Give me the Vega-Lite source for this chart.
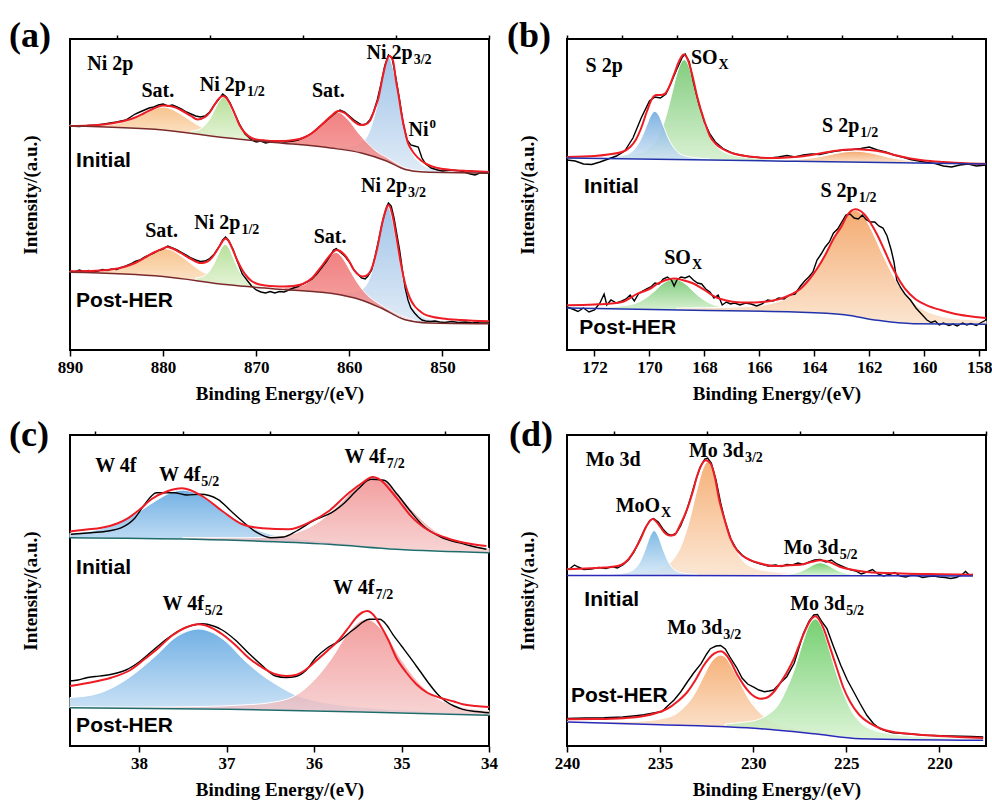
{
"$schema": "https://vega.github.io/schema/vega-lite/v6.json",
"padding": {"left": 8, "top": 17, "right": 0, "bottom": 0},
"columns": 2,
"spacing": {"row": 85, "column": 78},
"bounds": "flush",
"config": {
 "font": "Liberation Serif",
 "view": {"stroke": "black", "strokeWidth": 2},
 "axisX": {"domain": false, "grid": false, "tickColor": "black", "tickWidth": 1.5, "tickSize": 6, "labelFont": "Liberation Serif", "labelFontSize": 17, "labelFontWeight": "bold", "labelColor": "black", "labelPadding": 3, "labelFlush": false, "labelOverlap": false, "titleFont": "Liberation Serif", "titleFontSize": 19, "titleFontWeight": "bold", "titleColor": "black", "titlePadding": 9},
 "axisY": {"domain": false, "grid": false, "ticks": false, "labels": false, "minExtent": 0, "titleFont": "Liberation Serif", "titleFontSize": 19, "titleFontWeight": "bold", "titleColor": "black", "titlePadding": 30}
},
"datasets": {
"a": [
{"k":"raw","g":"i","x":890,"y":224},{"k":"raw","g":"i","x":889,"y":223.5},{"k":"raw","g":"i","x":888,"y":224.5},{"k":"raw","g":"i","x":887,"y":225},{"k":"raw","g":"i","x":886,"y":226.5},{"k":"raw","g":"i","x":885,"y":228},{"k":"raw","g":"i","x":884,"y":230},{"k":"raw","g":"i","x":883.5,"y":233},{"k":"raw","g":"i","x":883,"y":236},{"k":"raw","g":"i","x":882.5,"y":238},{"k":"raw","g":"i","x":882,"y":240},{"k":"raw","g":"i","x":881.5,"y":242},{"k":"raw","g":"i","x":881,"y":243},{"k":"raw","g":"i","x":880.5,"y":245},{"k":"raw","g":"i","x":880,"y":246},{"k":"raw","g":"i","x":879.5,"y":244},{"k":"raw","g":"i","x":879,"y":245},{"k":"raw","g":"i","x":878.5,"y":243},{"k":"raw","g":"i","x":878,"y":241},{"k":"raw","g":"i","x":877.5,"y":238},{"k":"raw","g":"i","x":877,"y":236},{"k":"raw","g":"i","x":876.5,"y":234},{"k":"raw","g":"i","x":876,"y":233},{"k":"raw","g":"i","x":875.5,"y":234},{"k":"raw","g":"i","x":875,"y":238},{"k":"raw","g":"i","x":874.5,"y":245},{"k":"raw","g":"i","x":874,"y":251},{"k":"raw","g":"i","x":873.6,"y":256},{"k":"raw","g":"i","x":873.2,"y":253},{"k":"raw","g":"i","x":872.8,"y":247},{"k":"raw","g":"i","x":872.3,"y":236},{"k":"raw","g":"i","x":871.8,"y":226},{"k":"raw","g":"i","x":871.2,"y":216},{"k":"raw","g":"i","x":870.5,"y":210},{"k":"raw","g":"i","x":870,"y":208},{"k":"raw","g":"i","x":869.5,"y":209},{"k":"raw","g":"i","x":869,"y":207},{"k":"raw","g":"i","x":868.5,"y":208},{"k":"raw","g":"i","x":868,"y":209},{"k":"raw","g":"i","x":867,"y":208},{"k":"raw","g":"i","x":866,"y":209},{"k":"raw","g":"i","x":865.5,"y":210},{"k":"raw","g":"i","x":865,"y":212},{"k":"raw","g":"i","x":864.5,"y":214},{"k":"raw","g":"i","x":864,"y":217},{"k":"raw","g":"i","x":863.5,"y":221},{"k":"raw","g":"i","x":863,"y":225},{"k":"raw","g":"i","x":862.5,"y":229},{"k":"raw","g":"i","x":862,"y":233},{"k":"raw","g":"i","x":861.5,"y":237},{"k":"raw","g":"i","x":861,"y":240},{"k":"raw","g":"i","x":860.5,"y":238},{"k":"raw","g":"i","x":860,"y":234},{"k":"raw","g":"i","x":859.5,"y":230},{"k":"raw","g":"i","x":859,"y":227},{"k":"raw","g":"i","x":858.6,"y":225},{"k":"raw","g":"i","x":858.2,"y":226},{"k":"raw","g":"i","x":857.8,"y":230},{"k":"raw","g":"i","x":857.4,"y":238},{"k":"raw","g":"i","x":857,"y":250},{"k":"raw","g":"i","x":856.6,"y":266},{"k":"raw","g":"i","x":856.2,"y":284},{"k":"raw","g":"i","x":855.8,"y":295},{"k":"raw","g":"i","x":855.4,"y":292},{"k":"raw","g":"i","x":855,"y":272},{"k":"raw","g":"i","x":854.6,"y":250},{"k":"raw","g":"i","x":854.2,"y":226},{"k":"raw","g":"i","x":853.8,"y":210},{"k":"raw","g":"i","x":853.4,"y":205},{"k":"raw","g":"i","x":853,"y":204},{"k":"raw","g":"i","x":852.6,"y":203},{"k":"raw","g":"i","x":852.2,"y":192},{"k":"raw","g":"i","x":851.8,"y":186},{"k":"raw","g":"i","x":851.2,"y":182},{"k":"raw","g":"i","x":850.5,"y":180},{"k":"raw","g":"i","x":850,"y":179},{"k":"raw","g":"i","x":849,"y":180},{"k":"raw","g":"i","x":848,"y":179},{"k":"raw","g":"i","x":847,"y":176},{"k":"raw","g":"i","x":846.5,"y":175},{"k":"raw","g":"i","x":846,"y":177},{"k":"raw","g":"i","x":845,"y":177},
{"k":"raw","g":"p","x":890,"y":79},{"k":"raw","g":"p","x":889.5,"y":78},{"k":"raw","g":"p","x":889,"y":80},{"k":"raw","g":"p","x":888.5,"y":78.5},{"k":"raw","g":"p","x":888,"y":79.5},{"k":"raw","g":"p","x":887.5,"y":78},{"k":"raw","g":"p","x":887,"y":79},{"k":"raw","g":"p","x":886.5,"y":80.5},{"k":"raw","g":"p","x":886,"y":79.5},{"k":"raw","g":"p","x":885.5,"y":81},{"k":"raw","g":"p","x":885,"y":80.5},{"k":"raw","g":"p","x":884.5,"y":82.5},{"k":"raw","g":"p","x":884,"y":84},{"k":"raw","g":"p","x":883.5,"y":86},{"k":"raw","g":"p","x":883,"y":88.5},{"k":"raw","g":"p","x":882.5,"y":90},{"k":"raw","g":"p","x":882,"y":93},{"k":"raw","g":"p","x":881.5,"y":95},{"k":"raw","g":"p","x":881,"y":97},{"k":"raw","g":"p","x":880.5,"y":99.5},{"k":"raw","g":"p","x":880,"y":101},{"k":"raw","g":"p","x":879.5,"y":104},{"k":"raw","g":"p","x":879,"y":102},{"k":"raw","g":"p","x":878.5,"y":100},{"k":"raw","g":"p","x":878,"y":97.5},{"k":"raw","g":"p","x":877.5,"y":95},{"k":"raw","g":"p","x":877,"y":92},{"k":"raw","g":"p","x":876.5,"y":90},{"k":"raw","g":"p","x":876,"y":88.5},{"k":"raw","g":"p","x":875.5,"y":89},{"k":"raw","g":"p","x":875,"y":91.5},{"k":"raw","g":"p","x":874.5,"y":96},{"k":"raw","g":"p","x":874,"y":103},{"k":"raw","g":"p","x":873.6,"y":110},{"k":"raw","g":"p","x":873.3,"y":113},{"k":"raw","g":"p","x":873,"y":110},{"k":"raw","g":"p","x":872.5,"y":101},{"k":"raw","g":"p","x":872,"y":88},{"k":"raw","g":"p","x":871.5,"y":76},{"k":"raw","g":"p","x":871,"y":70},{"k":"raw","g":"p","x":870.5,"y":64},{"k":"raw","g":"p","x":870,"y":60},{"k":"raw","g":"p","x":869.5,"y":58},{"k":"raw","g":"p","x":869,"y":57},{"k":"raw","g":"p","x":868.5,"y":58.5},{"k":"raw","g":"p","x":868,"y":57},{"k":"raw","g":"p","x":867.5,"y":58.5},{"k":"raw","g":"p","x":867,"y":58},{"k":"raw","g":"p","x":866.5,"y":60},{"k":"raw","g":"p","x":866,"y":62},{"k":"raw","g":"p","x":865.5,"y":63.5},{"k":"raw","g":"p","x":865,"y":66},{"k":"raw","g":"p","x":864.5,"y":68},{"k":"raw","g":"p","x":864,"y":71},{"k":"raw","g":"p","x":863.5,"y":76},{"k":"raw","g":"p","x":863,"y":82},{"k":"raw","g":"p","x":862.5,"y":88},{"k":"raw","g":"p","x":862,"y":95},{"k":"raw","g":"p","x":861.7,"y":100},{"k":"raw","g":"p","x":861.4,"y":101.5},{"k":"raw","g":"p","x":861,"y":98},{"k":"raw","g":"p","x":860.5,"y":94},{"k":"raw","g":"p","x":860,"y":88},{"k":"raw","g":"p","x":859.5,"y":80},{"k":"raw","g":"p","x":859,"y":75},{"k":"raw","g":"p","x":858.7,"y":72},{"k":"raw","g":"p","x":858.3,"y":71},{"k":"raw","g":"p","x":858,"y":74},{"k":"raw","g":"p","x":857.6,"y":80},{"k":"raw","g":"p","x":857.2,"y":95},{"k":"raw","g":"p","x":856.8,"y":112},{"k":"raw","g":"p","x":856.4,"y":130},{"k":"raw","g":"p","x":856,"y":143},{"k":"raw","g":"p","x":855.8,"y":147},{"k":"raw","g":"p","x":855.5,"y":144},{"k":"raw","g":"p","x":855.2,"y":132},{"k":"raw","g":"p","x":854.9,"y":116},{"k":"raw","g":"p","x":854.6,"y":100},{"k":"raw","g":"p","x":854.3,"y":80},{"k":"raw","g":"p","x":854,"y":62},{"k":"raw","g":"p","x":853.7,"y":50},{"k":"raw","g":"p","x":853.4,"y":42},{"k":"raw","g":"p","x":853,"y":37},{"k":"raw","g":"p","x":852.6,"y":33},{"k":"raw","g":"p","x":852.2,"y":30},{"k":"raw","g":"p","x":851.8,"y":29},{"k":"raw","g":"p","x":851.3,"y":28.5},{"k":"raw","g":"p","x":850.8,"y":29},{"k":"raw","g":"p","x":850.3,"y":28},{"k":"raw","g":"p","x":849.8,"y":27.5},{"k":"raw","g":"p","x":849,"y":28.5},{"k":"raw","g":"p","x":848.3,"y":27.5},{"k":"raw","g":"p","x":847.5,"y":28},{"k":"raw","g":"p","x":846.8,"y":27},{"k":"raw","g":"p","x":846,"y":28},{"k":"raw","g":"p","x":845,"y":28},
{"k":"fit","g":"i","x":890,"y":224},{"k":"fit","g":"i","x":888,"y":224.5},{"k":"fit","g":"i","x":886,"y":226},{"k":"fit","g":"i","x":884,"y":229.5},{"k":"fit","g":"i","x":883,"y":232.5},{"k":"fit","g":"i","x":882,"y":237},{"k":"fit","g":"i","x":881,"y":241.5},{"k":"fit","g":"i","x":880,"y":244.5},{"k":"fit","g":"i","x":879,"y":243.5},{"k":"fit","g":"i","x":878,"y":239.5},{"k":"fit","g":"i","x":877,"y":234},{"k":"fit","g":"i","x":876.3,"y":230.5},{"k":"fit","g":"i","x":875.5,"y":233},{"k":"fit","g":"i","x":875,"y":237.5},{"k":"fit","g":"i","x":874.5,"y":245},{"k":"fit","g":"i","x":874,"y":251.5},{"k":"fit","g":"i","x":873.6,"y":254},{"k":"fit","g":"i","x":873.2,"y":252},{"k":"fit","g":"i","x":872.8,"y":246},{"k":"fit","g":"i","x":872.3,"y":236},{"k":"fit","g":"i","x":871.8,"y":225},{"k":"fit","g":"i","x":871.2,"y":217},{"k":"fit","g":"i","x":870.5,"y":212},{"k":"fit","g":"i","x":870,"y":210.5},{"k":"fit","g":"i","x":869,"y":209.5},{"k":"fit","g":"i","x":868,"y":209},{"k":"fit","g":"i","x":867,"y":209},{"k":"fit","g":"i","x":866,"y":210},{"k":"fit","g":"i","x":865,"y":212},{"k":"fit","g":"i","x":864,"y":217},{"k":"fit","g":"i","x":863,"y":225},{"k":"fit","g":"i","x":862,"y":233.5},{"k":"fit","g":"i","x":861.2,"y":239},{"k":"fit","g":"i","x":860.5,"y":237},{"k":"fit","g":"i","x":860,"y":233},{"k":"fit","g":"i","x":859.5,"y":228.5},{"k":"fit","g":"i","x":858.8,"y":225},{"k":"fit","g":"i","x":858.3,"y":225.5},{"k":"fit","g":"i","x":857.8,"y":229},{"k":"fit","g":"i","x":857.2,"y":243},{"k":"fit","g":"i","x":856.9,"y":251},{"k":"fit","g":"i","x":856.4,"y":274},{"k":"fit","g":"i","x":856,"y":289},{"k":"fit","g":"i","x":855.7,"y":294},{"k":"fit","g":"i","x":855.3,"y":289},{"k":"fit","g":"i","x":855,"y":270},{"k":"fit","g":"i","x":854.7,"y":254},{"k":"fit","g":"i","x":854.4,"y":236},{"k":"fit","g":"i","x":854,"y":218},{"k":"fit","g":"i","x":853.7,"y":207},{"k":"fit","g":"i","x":853.3,"y":200},{"k":"fit","g":"i","x":853,"y":196},{"k":"fit","g":"i","x":852.3,"y":189.5},{"k":"fit","g":"i","x":851.5,"y":185},{"k":"fit","g":"i","x":850.5,"y":182},{"k":"fit","g":"i","x":849,"y":180},{"k":"fit","g":"i","x":847,"y":179},{"k":"fit","g":"i","x":845,"y":178},
{"k":"fit","g":"p","x":890,"y":78.7},{"k":"fit","g":"p","x":888,"y":79},{"k":"fit","g":"p","x":886,"y":80},{"k":"fit","g":"p","x":884,"y":83.5},{"k":"fit","g":"p","x":883,"y":87},{"k":"fit","g":"p","x":882,"y":92},{"k":"fit","g":"p","x":881,"y":97.5},{"k":"fit","g":"p","x":880,"y":101.5},{"k":"fit","g":"p","x":879.6,"y":103},{"k":"fit","g":"p","x":879,"y":101.5},{"k":"fit","g":"p","x":878,"y":96.5},{"k":"fit","g":"p","x":877,"y":91},{"k":"fit","g":"p","x":876,"y":87},{"k":"fit","g":"p","x":875.5,"y":87.5},{"k":"fit","g":"p","x":875,"y":90},{"k":"fit","g":"p","x":874.5,"y":95.5},{"k":"fit","g":"p","x":874,"y":103},{"k":"fit","g":"p","x":873.6,"y":109},{"k":"fit","g":"p","x":873.3,"y":111.5},{"k":"fit","g":"p","x":873,"y":109.5},{"k":"fit","g":"p","x":872.5,"y":100},{"k":"fit","g":"p","x":872,"y":89},{"k":"fit","g":"p","x":871.5,"y":80},{"k":"fit","g":"p","x":871,"y":73.5},{"k":"fit","g":"p","x":870.5,"y":69},{"k":"fit","g":"p","x":870,"y":66.5},{"k":"fit","g":"p","x":869,"y":64.5},{"k":"fit","g":"p","x":868,"y":63.7},{"k":"fit","g":"p","x":867,"y":63.5},{"k":"fit","g":"p","x":866,"y":64},{"k":"fit","g":"p","x":865,"y":66},{"k":"fit","g":"p","x":864,"y":72},{"k":"fit","g":"p","x":863,"y":83.5},{"k":"fit","g":"p","x":862,"y":95.5},{"k":"fit","g":"p","x":861.4,"y":100},{"k":"fit","g":"p","x":861,"y":99},{"k":"fit","g":"p","x":860.5,"y":95},{"k":"fit","g":"p","x":860,"y":88.5},{"k":"fit","g":"p","x":859.5,"y":80},{"k":"fit","g":"p","x":859,"y":75},{"k":"fit","g":"p","x":858.5,"y":73.5},{"k":"fit","g":"p","x":858,"y":75.5},{"k":"fit","g":"p","x":857.5,"y":84},{"k":"fit","g":"p","x":857,"y":102},{"k":"fit","g":"p","x":856.5,"y":125.5},{"k":"fit","g":"p","x":856,"y":142},{"k":"fit","g":"p","x":855.8,"y":145},{"k":"fit","g":"p","x":855.4,"y":136},{"k":"fit","g":"p","x":855,"y":116},{"k":"fit","g":"p","x":854.5,"y":88},{"k":"fit","g":"p","x":854,"y":66},{"k":"fit","g":"p","x":853.5,"y":52},{"k":"fit","g":"p","x":853,"y":44},{"k":"fit","g":"p","x":852.5,"y":39.5},{"k":"fit","g":"p","x":852,"y":36},{"k":"fit","g":"p","x":851,"y":33},{"k":"fit","g":"p","x":850,"y":31.5},{"k":"fit","g":"p","x":848,"y":30},{"k":"fit","g":"p","x":845,"y":28.7},
{"k":"base","g":"i","x":890,"y":224},{"k":"base","g":"i","x":880,"y":220},{"k":"base","g":"i","x":873,"y":212},{"k":"base","g":"i","x":868,"y":207.5},{"k":"base","g":"i","x":862,"y":202},{"k":"base","g":"i","x":858.7,"y":197},{"k":"base","g":"i","x":856,"y":189},{"k":"base","g":"i","x":854,"y":180.5},{"k":"base","g":"i","x":852,"y":178},{"k":"base","g":"i","x":845,"y":177},
{"k":"base","g":"p","x":890,"y":77.7},{"k":"base","g":"p","x":880,"y":73.5},{"k":"base","g":"p","x":873,"y":65.2},{"k":"base","g":"p","x":868,"y":61.1},{"k":"base","g":"p","x":862,"y":56.7},{"k":"base","g":"p","x":858.8,"y":50.3},{"k":"base","g":"p","x":856.6,"y":42},{"k":"base","g":"p","x":854,"y":30.3},{"k":"base","g":"p","x":851.5,"y":27},{"k":"base","g":"p","x":845,"y":26.3},
{"k":"or","g":"i","x":890,"y":224.9,"y2":224},{"k":"or","g":"i","x":888,"y":224.6,"y2":223.2},{"k":"or","g":"i","x":886,"y":225.2,"y2":222.4},{"k":"or","g":"i","x":884,"y":228.5,"y2":221.6},{"k":"or","g":"i","x":883,"y":231.8,"y2":221.2},{"k":"or","g":"i","x":882,"y":236.2,"y2":220.8},{"k":"or","g":"i","x":881,"y":240.6,"y2":220.4},{"k":"or","g":"i","x":880,"y":243,"y2":220},{"k":"or","g":"i","x":879,"y":240.5,"y2":218.9},{"k":"or","g":"i","x":878,"y":235.2,"y2":217.7},{"k":"or","g":"i","x":877,"y":229.2,"y2":216.6},{"k":"or","g":"i","x":876,"y":223.4,"y2":215.4},{"k":"or","g":"i","x":875,"y":219.4,"y2":214.3},{"k":"or","g":"i","x":874,"y":216.3,"y2":213.1},{"k":"or","g":"i","x":872,"y":212.7,"y2":211.1},{"k":"or","g":"i","x":870,"y":210.3,"y2":209.3},
{"k":"gr","g":"i","x":877,"y":219,"y2":216.6},{"k":"gr","g":"i","x":876,"y":221,"y2":215.4},{"k":"gr","g":"i","x":875.5,"y":224.9,"y2":214.9},{"k":"gr","g":"i","x":875,"y":230.7,"y2":214.3},{"k":"gr","g":"i","x":874.5,"y":239.7,"y2":213.7},{"k":"gr","g":"i","x":874,"y":248.7,"y2":213.1},{"k":"gr","g":"i","x":873.5,"y":252.6,"y2":212.6},{"k":"gr","g":"i","x":873,"y":247.6,"y2":212},{"k":"gr","g":"i","x":872.5,"y":237.5,"y2":211.5},{"k":"gr","g":"i","x":872,"y":227.5,"y2":211.1},{"k":"gr","g":"i","x":871.5,"y":220.6,"y2":210.6},{"k":"gr","g":"i","x":871,"y":215.8,"y2":210.2},{"k":"gr","g":"i","x":870,"y":211.7,"y2":209.3},{"k":"gr","g":"i","x":869,"y":210,"y2":208.4},
{"k":"bl","g":"i","x":861,"y":203.6,"y2":200.5},{"k":"bl","g":"i","x":860,"y":203.7,"y2":199},{"k":"bl","g":"i","x":859,"y":205.8,"y2":197.5},{"k":"bl","g":"i","x":858.5,"y":208.7,"y2":196.2},{"k":"bl","g":"i","x":858,"y":215.2,"y2":194.9},{"k":"bl","g":"i","x":857.5,"y":227.8,"y2":193.5},{"k":"bl","g":"i","x":857,"y":246,"y2":192},{"k":"bl","g":"i","x":856.5,"y":269.5,"y2":190.5},{"k":"bl","g":"i","x":856,"y":288.8,"y2":189},{"k":"bl","g":"i","x":855.7,"y":291.7,"y2":187.7},{"k":"bl","g":"i","x":855.3,"y":281.7,"y2":186},{"k":"bl","g":"i","x":855,"y":268.8,"y2":184.8},{"k":"bl","g":"i","x":854.5,"y":241.6,"y2":182.6},{"k":"bl","g":"i","x":854,"y":216.9,"y2":180.5},{"k":"bl","g":"i","x":853.5,"y":201.7,"y2":179.9},{"k":"bl","g":"i","x":853,"y":192.8,"y2":179.3},{"k":"bl","g":"i","x":852.5,"y":188,"y2":178.6},{"k":"bl","g":"i","x":852,"y":184.2,"y2":178},{"k":"bl","g":"i","x":851,"y":182,"y2":177.8},{"k":"bl","g":"i","x":850,"y":180.6,"y2":177.7},{"k":"bl","g":"i","x":848,"y":179,"y2":177.4},
{"k":"rd","g":"i","x":867,"y":209.3,"y2":206.6},{"k":"rd","g":"i","x":866,"y":210.1,"y2":205.7},{"k":"rd","g":"i","x":865,"y":212.2,"y2":204.8},{"k":"rd","g":"i","x":864,"y":217.5,"y2":203.8},{"k":"rd","g":"i","x":863,"y":226.6,"y2":202.9},{"k":"rd","g":"i","x":862,"y":235.3,"y2":202},{"k":"rd","g":"i","x":861.2,"y":237.8,"y2":200.8},{"k":"rd","g":"i","x":860.5,"y":233.8,"y2":199.8},{"k":"rd","g":"i","x":860,"y":229,"y2":199},{"k":"rd","g":"i","x":859,"y":216.7,"y2":197.5},{"k":"rd","g":"i","x":858,"y":206.4,"y2":194.9},{"k":"rd","g":"i","x":857,"y":197.9,"y2":192},{"k":"rd","g":"i","x":856,"y":192.7,"y2":189},{"k":"rd","g":"i","x":855,"y":187,"y2":184.8},{"k":"rd","g":"i","x":854,"y":182.2,"y2":180.5},{"k":"rd","g":"i","x":852,"y":179.1,"y2":178},
{"k":"or","g":"p","x":890,"y":78.8,"y2":77.7},{"k":"or","g":"p","x":888,"y":78.4,"y2":76.9},{"k":"or","g":"p","x":886,"y":79.3,"y2":76.1},{"k":"or","g":"p","x":884,"y":82.9,"y2":75.3},{"k":"or","g":"p","x":883,"y":86.9,"y2":74.9},{"k":"or","g":"p","x":882,"y":91.9,"y2":74.5},{"k":"or","g":"p","x":881,"y":97.6,"y2":74.1},{"k":"or","g":"p","x":880,"y":101.4,"y2":73.5},{"k":"or","g":"p","x":879.6,"y":101.2,"y2":73},{"k":"or","g":"p","x":879,"y":99.4,"y2":72.3},{"k":"or","g":"p","x":878,"y":93.5,"y2":71.1},{"k":"or","g":"p","x":877,"y":86.2,"y2":69.9},{"k":"or","g":"p","x":876,"y":79.4,"y2":68.8},{"k":"or","g":"p","x":875,"y":74.6,"y2":67.6},{"k":"or","g":"p","x":874,"y":70.6,"y2":66.4},{"k":"or","g":"p","x":872,"y":66.5,"y2":64.4},{"k":"or","g":"p","x":870,"y":64,"y2":62.7},
{"k":"gr","g":"p","x":876.5,"y":72,"y2":69.4},{"k":"gr","g":"p","x":876,"y":72.8,"y2":68.8},{"k":"gr","g":"p","x":875.5,"y":74.6,"y2":68.2},{"k":"gr","g":"p","x":875,"y":79.2,"y2":67.6},{"k":"gr","g":"p","x":874.5,"y":87,"y2":67},{"k":"gr","g":"p","x":874,"y":97.2,"y2":66.4},{"k":"gr","g":"p","x":873.6,"y":103.9,"y2":65.9},{"k":"gr","g":"p","x":873.3,"y":105.6,"y2":65.6},{"k":"gr","g":"p","x":873,"y":103.2,"y2":65.2},{"k":"gr","g":"p","x":872.5,"y":93.2,"y2":64.8},{"k":"gr","g":"p","x":872,"y":82.4,"y2":64.4},{"k":"gr","g":"p","x":871.5,"y":74.4,"y2":64},{"k":"gr","g":"p","x":871,"y":69.2,"y2":63.6},{"k":"gr","g":"p","x":870,"y":65.1,"y2":62.7},{"k":"gr","g":"p","x":869,"y":63.3,"y2":61.9},
{"k":"bl","g":"p","x":861,"y":57.8,"y2":54.7},{"k":"bl","g":"p","x":860,"y":57.4,"y2":52.7},{"k":"bl","g":"p","x":859,"y":59.1,"y2":50.8},{"k":"bl","g":"p","x":858.5,"y":61.6,"y2":49.1},{"k":"bl","g":"p","x":858,"y":68,"y2":47.2},{"k":"bl","g":"p","x":857.5,"y":80.8,"y2":45.4},{"k":"bl","g":"p","x":857,"y":100.7,"y2":43.5},{"k":"bl","g":"p","x":856.5,"y":124.5,"y2":41.3},{"k":"bl","g":"p","x":856,"y":141.2,"y2":39.2},{"k":"bl","g":"p","x":855.8,"y":142.3,"y2":38.3},{"k":"bl","g":"p","x":855.4,"y":131.1,"y2":36.5},{"k":"bl","g":"p","x":855,"y":111.7,"y2":34.7},{"k":"bl","g":"p","x":854.5,"y":84.5,"y2":32.5},{"k":"bl","g":"p","x":854,"y":62.5,"y2":30.3},{"k":"bl","g":"p","x":853.5,"y":48.3,"y2":29.6},{"k":"bl","g":"p","x":853,"y":40.4,"y2":29},{"k":"bl","g":"p","x":852.5,"y":36.1,"y2":28.3},{"k":"bl","g":"p","x":852,"y":33.1,"y2":27.6},{"k":"bl","g":"p","x":851,"y":30.5,"y2":26.9},{"k":"bl","g":"p","x":850,"y":29.4,"y2":26.8},{"k":"bl","g":"p","x":848,"y":28.1,"y2":26.6},
{"k":"rd","g":"p","x":867,"y":62.5,"y2":60.4},{"k":"rd","g":"p","x":866,"y":63.1,"y2":59.7},{"k":"rd","g":"p","x":865,"y":64.9,"y2":59},{"k":"rd","g":"p","x":864,"y":71.1,"y2":58.1},{"k":"rd","g":"p","x":863,"y":82.6,"y2":57.4},{"k":"rd","g":"p","x":862,"y":94.9,"y2":56.7},{"k":"rd","g":"p","x":861.4,"y":97.5,"y2":55.5},{"k":"rd","g":"p","x":861,"y":95,"y2":54.7},{"k":"rd","g":"p","x":860.5,"y":89,"y2":53.7},{"k":"rd","g":"p","x":860,"y":80.8,"y2":52.7},{"k":"rd","g":"p","x":859,"y":65.5,"y2":50.8},{"k":"rd","g":"p","x":858,"y":54.3,"y2":47.2},{"k":"rd","g":"p","x":857,"y":47.3,"y2":43.5},{"k":"rd","g":"p","x":856,"y":41.5,"y2":39.2},{"k":"rd","g":"p","x":855,"y":36.4,"y2":34.7},{"k":"rd","g":"p","x":853,"y":30,"y2":29},
{"k":"t","x":883.2,"y":280,"txt":"Ni 2p"},{"k":"t","x":878.8,"y":253,"txt":"Sat."},{"k":"t","x":871.1,"y":259,"txt":"Ni 2p"},{"k":"t","x":860.5,"y":253,"txt":"Sat."},{"k":"t","x":853.2,"y":291,"txt":"Ni 2p"},{"k":"t","x":851.5,"y":214,"txt":"Ni"},{"k":"t","x":853.8,"y":158.5,"txt":"Ni 2p"},{"k":"t","x":878.4,"y":112.7,"txt":"Sat."},{"k":"t","x":871.7,"y":121,"txt":"Ni 2p"},{"k":"t","x":860.3,"y":107,"txt":"Sat."},
{"k":"s","x":871.1,"y":259,"txt":"1/2"},{"k":"s","x":853.2,"y":291,"txt":"3/2"},{"k":"s","x":853.8,"y":158.5,"txt":"3/2"},{"k":"s","x":871.7,"y":121,"txt":"1/2"},
{"k":"u","x":851.5,"y":214,"txt":"0"},
{"k":"n","x":889.35,"y":183,"txt":"Initial"},{"k":"n","x":889.35,"y":43,"txt":"Post-HER"}
],
"b": [
{"k":"raw","g":"i","x":173,"y":190},{"k":"raw","g":"i","x":172.7,"y":189},{"k":"raw","g":"i","x":172.4,"y":186},{"k":"raw","g":"i","x":172.1,"y":185.5},{"k":"raw","g":"i","x":171.8,"y":188},{"k":"raw","g":"i","x":171.5,"y":191},{"k":"raw","g":"i","x":171.2,"y":194},{"k":"raw","g":"i","x":170.9,"y":199},{"k":"raw","g":"i","x":170.6,"y":212},{"k":"raw","g":"i","x":170.3,"y":232},{"k":"raw","g":"i","x":170,"y":249},{"k":"raw","g":"i","x":169.8,"y":253},{"k":"raw","g":"i","x":169.6,"y":252},{"k":"raw","g":"i","x":169.4,"y":256},{"k":"raw","g":"i","x":169.2,"y":268},{"k":"raw","g":"i","x":169,"y":281},{"k":"raw","g":"i","x":168.8,"y":293},{"k":"raw","g":"i","x":168.7,"y":296},{"k":"raw","g":"i","x":168.55,"y":288},{"k":"raw","g":"i","x":168.4,"y":268},{"k":"raw","g":"i","x":168.2,"y":246},{"k":"raw","g":"i","x":168,"y":228},{"k":"raw","g":"i","x":167.8,"y":216},{"k":"raw","g":"i","x":167.6,"y":208},{"k":"raw","g":"i","x":167.3,"y":201},{"k":"raw","g":"i","x":167,"y":197},{"k":"raw","g":"i","x":166.7,"y":195},{"k":"raw","g":"i","x":166.4,"y":193.5},{"k":"raw","g":"i","x":166,"y":192.5},{"k":"raw","g":"i","x":165.6,"y":192},{"k":"raw","g":"i","x":165.3,"y":193},{"k":"raw","g":"i","x":165,"y":194.5},{"k":"raw","g":"i","x":164.7,"y":193},{"k":"raw","g":"i","x":164.4,"y":195},{"k":"raw","g":"i","x":164.1,"y":196},{"k":"raw","g":"i","x":163.8,"y":195.5},{"k":"raw","g":"i","x":163.5,"y":197.5},{"k":"raw","g":"i","x":163.2,"y":199},{"k":"raw","g":"i","x":162.9,"y":200},{"k":"raw","g":"i","x":162.6,"y":200.5},{"k":"raw","g":"i","x":162.3,"y":201.5},{"k":"raw","g":"i","x":162,"y":203},{"k":"raw","g":"i","x":161.7,"y":200},{"k":"raw","g":"i","x":161.4,"y":198},{"k":"raw","g":"i","x":161.1,"y":195},{"k":"raw","g":"i","x":160.8,"y":193},{"k":"raw","g":"i","x":160.5,"y":190.5},{"k":"raw","g":"i","x":160.2,"y":189},{"k":"raw","g":"i","x":159.9,"y":187.5},{"k":"raw","g":"i","x":159.6,"y":186.5},{"k":"raw","g":"i","x":159.3,"y":184},{"k":"raw","g":"i","x":159,"y":183},{"k":"raw","g":"i","x":158.7,"y":185},{"k":"raw","g":"i","x":158.4,"y":186},{"k":"raw","g":"i","x":158.1,"y":184},{"k":"raw","g":"i","x":157.75,"y":185},
{"k":"raw","g":"p","x":173,"y":43},{"k":"raw","g":"p","x":172.8,"y":41},{"k":"raw","g":"p","x":172.6,"y":38.5},{"k":"raw","g":"p","x":172.4,"y":42},{"k":"raw","g":"p","x":172.2,"y":38},{"k":"raw","g":"p","x":172,"y":40},{"k":"raw","g":"p","x":171.8,"y":47},{"k":"raw","g":"p","x":171.65,"y":56},{"k":"raw","g":"p","x":171.55,"y":45},{"k":"raw","g":"p","x":171.4,"y":50},{"k":"raw","g":"p","x":171.2,"y":47},{"k":"raw","g":"p","x":171,"y":49},{"k":"raw","g":"p","x":170.85,"y":51},{"k":"raw","g":"p","x":170.7,"y":55},{"k":"raw","g":"p","x":170.55,"y":49},{"k":"raw","g":"p","x":170.4,"y":56},{"k":"raw","g":"p","x":170.25,"y":59},{"k":"raw","g":"p","x":170.1,"y":61},{"k":"raw","g":"p","x":169.95,"y":63},{"k":"raw","g":"p","x":169.8,"y":67},{"k":"raw","g":"p","x":169.65,"y":66},{"k":"raw","g":"p","x":169.5,"y":71},{"k":"raw","g":"p","x":169.35,"y":73},{"k":"raw","g":"p","x":169.2,"y":70},{"k":"raw","g":"p","x":169.1,"y":64},{"k":"raw","g":"p","x":169,"y":70},{"k":"raw","g":"p","x":168.85,"y":73},{"k":"raw","g":"p","x":168.7,"y":72},{"k":"raw","g":"p","x":168.55,"y":74},{"k":"raw","g":"p","x":168.4,"y":70},{"k":"raw","g":"p","x":168.25,"y":67},{"k":"raw","g":"p","x":168.1,"y":66},{"k":"raw","g":"p","x":167.95,"y":61},{"k":"raw","g":"p","x":167.8,"y":58},{"k":"raw","g":"p","x":167.65,"y":52},{"k":"raw","g":"p","x":167.5,"y":55},{"k":"raw","g":"p","x":167.35,"y":45},{"k":"raw","g":"p","x":167.2,"y":48},{"k":"raw","g":"p","x":167.05,"y":46},{"k":"raw","g":"p","x":166.9,"y":47},{"k":"raw","g":"p","x":166.7,"y":45},{"k":"raw","g":"p","x":166.5,"y":47},{"k":"raw","g":"p","x":166.3,"y":46},{"k":"raw","g":"p","x":166.1,"y":44},{"k":"raw","g":"p","x":165.9,"y":46},{"k":"raw","g":"p","x":165.7,"y":50},{"k":"raw","g":"p","x":165.5,"y":49},{"k":"raw","g":"p","x":165.3,"y":52},{"k":"raw","g":"p","x":165.1,"y":51},{"k":"raw","g":"p","x":164.9,"y":55},{"k":"raw","g":"p","x":164.7,"y":56},{"k":"raw","g":"p","x":164.5,"y":64},{"k":"raw","g":"p","x":164.35,"y":69},{"k":"raw","g":"p","x":164.2,"y":73},{"k":"raw","g":"p","x":164.05,"y":78},{"k":"raw","g":"p","x":163.9,"y":90},{"k":"raw","g":"p","x":163.75,"y":96},{"k":"raw","g":"p","x":163.6,"y":103},{"k":"raw","g":"p","x":163.45,"y":108},{"k":"raw","g":"p","x":163.3,"y":117},{"k":"raw","g":"p","x":163.15,"y":121},{"k":"raw","g":"p","x":163,"y":128},{"k":"raw","g":"p","x":162.85,"y":135},{"k":"raw","g":"p","x":162.7,"y":136},{"k":"raw","g":"p","x":162.55,"y":132},{"k":"raw","g":"p","x":162.4,"y":131},{"k":"raw","g":"p","x":162.25,"y":135},{"k":"raw","g":"p","x":162.1,"y":130},{"k":"raw","g":"p","x":161.95,"y":128},{"k":"raw","g":"p","x":161.8,"y":128},{"k":"raw","g":"p","x":161.65,"y":124},{"k":"raw","g":"p","x":161.5,"y":122},{"k":"raw","g":"p","x":161.35,"y":114},{"k":"raw","g":"p","x":161.2,"y":100},{"k":"raw","g":"p","x":161.1,"y":88},{"k":"raw","g":"p","x":161,"y":70},{"k":"raw","g":"p","x":160.85,"y":62},{"k":"raw","g":"p","x":160.7,"y":56},{"k":"raw","g":"p","x":160.5,"y":50},{"k":"raw","g":"p","x":160.3,"y":42},{"k":"raw","g":"p","x":160.1,"y":36},{"k":"raw","g":"p","x":159.9,"y":30},{"k":"raw","g":"p","x":159.75,"y":27.5},{"k":"raw","g":"p","x":159.6,"y":29},{"k":"raw","g":"p","x":159.45,"y":25},{"k":"raw","g":"p","x":159.3,"y":27},{"k":"raw","g":"p","x":159.1,"y":24.5},{"k":"raw","g":"p","x":158.95,"y":26},{"k":"raw","g":"p","x":158.8,"y":24},{"k":"raw","g":"p","x":158.6,"y":27},{"k":"raw","g":"p","x":158.45,"y":25},{"k":"raw","g":"p","x":158.3,"y":26.5},{"k":"raw","g":"p","x":158.1,"y":24.5},{"k":"raw","g":"p","x":157.95,"y":27},{"k":"raw","g":"p","x":157.75,"y":30},
{"k":"fit","g":"i","x":173,"y":193},{"k":"fit","g":"i","x":172,"y":194},{"k":"fit","g":"i","x":171.5,"y":195.5},{"k":"fit","g":"i","x":171,"y":198},{"k":"fit","g":"i","x":170.7,"y":203},{"k":"fit","g":"i","x":170.5,"y":210},{"k":"fit","g":"i","x":170.3,"y":222},{"k":"fit","g":"i","x":170.1,"y":238},{"k":"fit","g":"i","x":169.9,"y":251.5},{"k":"fit","g":"i","x":169.75,"y":255},{"k":"fit","g":"i","x":169.6,"y":255},{"k":"fit","g":"i","x":169.45,"y":256},{"k":"fit","g":"i","x":169.3,"y":262},{"k":"fit","g":"i","x":169.1,"y":276},{"k":"fit","g":"i","x":168.9,"y":290},{"k":"fit","g":"i","x":168.75,"y":295.5},{"k":"fit","g":"i","x":168.6,"y":290},{"k":"fit","g":"i","x":168.45,"y":276},{"k":"fit","g":"i","x":168.25,"y":252},{"k":"fit","g":"i","x":168,"y":229},{"k":"fit","g":"i","x":167.8,"y":214},{"k":"fit","g":"i","x":167.6,"y":206.5},{"k":"fit","g":"i","x":167.3,"y":200.5},{"k":"fit","g":"i","x":167,"y":197},{"k":"fit","g":"i","x":166.5,"y":194},{"k":"fit","g":"i","x":166,"y":192.5},{"k":"fit","g":"i","x":165.5,"y":192},{"k":"fit","g":"i","x":165,"y":192.5},{"k":"fit","g":"i","x":164.5,"y":193.5},{"k":"fit","g":"i","x":164,"y":195.5},{"k":"fit","g":"i","x":163.5,"y":198},{"k":"fit","g":"i","x":163,"y":200},{"k":"fit","g":"i","x":162.5,"y":200.7},{"k":"fit","g":"i","x":162,"y":200},{"k":"fit","g":"i","x":161.5,"y":198},{"k":"fit","g":"i","x":161,"y":194.5},{"k":"fit","g":"i","x":160.5,"y":191.5},{"k":"fit","g":"i","x":160,"y":189.5},{"k":"fit","g":"i","x":159.3,"y":188},{"k":"fit","g":"i","x":158.5,"y":186.8},{"k":"fit","g":"i","x":157.75,"y":186.3},
{"k":"fit","g":"p","x":173,"y":44.7},{"k":"fit","g":"p","x":172,"y":45.5},{"k":"fit","g":"p","x":171.4,"y":46.5},{"k":"fit","g":"p","x":171,"y":48},{"k":"fit","g":"p","x":170.43,"y":56.3},{"k":"fit","g":"p","x":170,"y":61},{"k":"fit","g":"p","x":169.7,"y":66.3},{"k":"fit","g":"p","x":169.4,"y":70},{"k":"fit","g":"p","x":169.1,"y":71.5},{"k":"fit","g":"p","x":168.8,"y":70},{"k":"fit","g":"p","x":168.4,"y":66.5},{"k":"fit","g":"p","x":168,"y":60},{"k":"fit","g":"p","x":167.6,"y":53},{"k":"fit","g":"p","x":167.2,"y":49.5},{"k":"fit","g":"p","x":166.9,"y":48},{"k":"fit","g":"p","x":166.4,"y":47.5},{"k":"fit","g":"p","x":165.9,"y":48},{"k":"fit","g":"p","x":165.5,"y":49.5},{"k":"fit","g":"p","x":165.2,"y":51.5},{"k":"fit","g":"p","x":164.8,"y":56},{"k":"fit","g":"p","x":164.5,"y":61.3},{"k":"fit","g":"p","x":164.2,"y":70},{"k":"fit","g":"p","x":163.9,"y":81.3},{"k":"fit","g":"p","x":163.6,"y":95},{"k":"fit","g":"p","x":163.3,"y":111.3},{"k":"fit","g":"p","x":163,"y":124},{"k":"fit","g":"p","x":162.8,"y":134.7},{"k":"fit","g":"p","x":162.5,"y":140.7},{"k":"fit","g":"p","x":162.2,"y":136.3},{"k":"fit","g":"p","x":161.95,"y":127},{"k":"fit","g":"p","x":161.7,"y":114.7},{"k":"fit","g":"p","x":161.45,"y":100},{"k":"fit","g":"p","x":161.2,"y":84.7},{"k":"fit","g":"p","x":160.95,"y":72},{"k":"fit","g":"p","x":160.7,"y":61.3},{"k":"fit","g":"p","x":160.3,"y":50.5},{"k":"fit","g":"p","x":159.9,"y":44.7},{"k":"fit","g":"p","x":159.4,"y":40},{"k":"fit","g":"p","x":158.9,"y":36.3},{"k":"fit","g":"p","x":158.4,"y":34},{"k":"fit","g":"p","x":157.75,"y":32},
{"k":"base","g":"i","x":173,"y":192},{"k":"base","g":"i","x":165,"y":188.8},{"k":"base","g":"i","x":157.75,"y":185.9},
{"k":"base","g":"p","x":173,"y":42},{"k":"base","g":"p","x":168.4,"y":39.7},{"k":"base","g":"p","x":164.7,"y":38},{"k":"base","g":"p","x":162.9,"y":35.3},{"k":"base","g":"p","x":161.7,"y":29.7},{"k":"base","g":"p","x":160.4,"y":26.3},{"k":"base","g":"p","x":157.75,"y":25.7},
{"k":"bl","g":"i","x":173,"y":192.5,"y2":192},{"k":"bl","g":"i","x":172.3,"y":192.4,"y2":191.7},{"k":"bl","g":"i","x":171.6,"y":192.8,"y2":191.4},{"k":"bl","g":"i","x":171,"y":194.3,"y2":191.2},{"k":"bl","g":"i","x":170.6,"y":199.2,"y2":191},{"k":"bl","g":"i","x":170.3,"y":211.5,"y2":190.9},{"k":"bl","g":"i","x":170.1,"y":224.8,"y2":190.8},{"k":"bl","g":"i","x":169.95,"y":234.5,"y2":190.8},{"k":"bl","g":"i","x":169.8,"y":238.7,"y2":190.7},{"k":"bl","g":"i","x":169.65,"y":234.4,"y2":190.7},{"k":"bl","g":"i","x":169.5,"y":224.6,"y2":190.6},{"k":"bl","g":"i","x":169.3,"y":211.1,"y2":190.5},{"k":"bl","g":"i","x":169,"y":198.6,"y2":190.4},{"k":"bl","g":"i","x":168.7,"y":194.1,"y2":190.3},{"k":"bl","g":"i","x":168.3,"y":192.3,"y2":190.1},{"k":"bl","g":"i","x":167.8,"y":191.1,"y2":189.9},
{"k":"gr","g":"i","x":171,"y":194.6,"y2":191.2},{"k":"gr","g":"i","x":170.5,"y":196,"y2":191},{"k":"gr","g":"i","x":170,"y":201.8,"y2":190.8},{"k":"gr","g":"i","x":169.7,"y":211.7,"y2":190.7},{"k":"gr","g":"i","x":169.4,"y":233.6,"y2":190.6},{"k":"gr","g":"i","x":169.2,"y":254.5,"y2":190.5},{"k":"gr","g":"i","x":169,"y":276.4,"y2":190.4},{"k":"gr","g":"i","x":168.85,"y":287.3,"y2":190.3},{"k":"gr","g":"i","x":168.73,"y":290.3,"y2":190.3},{"k":"gr","g":"i","x":168.6,"y":286.2,"y2":190.2},{"k":"gr","g":"i","x":168.4,"y":268.2,"y2":190.2},{"k":"gr","g":"i","x":168.2,"y":248.1,"y2":190.1},{"k":"gr","g":"i","x":168,"y":227,"y2":190},{"k":"gr","g":"i","x":167.7,"y":208.9,"y2":189.9},{"k":"gr","g":"i","x":167.4,"y":199.8,"y2":189.8},{"k":"gr","g":"i","x":167,"y":195.1,"y2":189.6},{"k":"gr","g":"i","x":166.5,"y":192.9,"y2":189.4},{"k":"gr","g":"i","x":166,"y":191.7,"y2":189.2},{"k":"gr","g":"i","x":165,"y":190.3,"y2":188.8},
{"k":"or","g":"i","x":165.5,"y":189.8,"y2":189},{"k":"or","g":"i","x":164.8,"y":190.2,"y2":188.7},{"k":"or","g":"i","x":164.2,"y":191.7,"y2":188.5},{"k":"or","g":"i","x":163.7,"y":193.8,"y2":188.3},{"k":"or","g":"i","x":163.2,"y":196.6,"y2":188.1},{"k":"or","g":"i","x":162.8,"y":198.4,"y2":187.9},{"k":"or","g":"i","x":162.5,"y":198.8,"y2":187.8},{"k":"or","g":"i","x":162.2,"y":198.2,"y2":187.7},{"k":"or","g":"i","x":161.8,"y":196.2,"y2":187.5},{"k":"or","g":"i","x":161.3,"y":192.8,"y2":187.3},{"k":"or","g":"i","x":160.8,"y":190.3,"y2":187.1},{"k":"or","g":"i","x":160.2,"y":188.4,"y2":186.9},{"k":"or","g":"i","x":159.5,"y":187.4,"y2":186.6},
{"k":"gr","g":"p","x":172.5,"y":42.6,"y2":41.7},{"k":"gr","g":"p","x":171.5,"y":42.9,"y2":41.2},{"k":"gr","g":"p","x":171,"y":44.1,"y2":41},{"k":"gr","g":"p","x":170.5,"y":46.7,"y2":40.75},{"k":"gr","g":"p","x":170.1,"y":52.6,"y2":40.5},{"k":"gr","g":"p","x":169.8,"y":59.3,"y2":40.4},{"k":"gr","g":"p","x":169.5,"y":66.7,"y2":40.3},{"k":"gr","g":"p","x":169.1,"y":71,"y2":40},{"k":"gr","g":"p","x":168.7,"y":66.3,"y2":39.9},{"k":"gr","g":"p","x":168.4,"y":58.6,"y2":39.7},{"k":"gr","g":"p","x":168.1,"y":51.6,"y2":39.55},{"k":"gr","g":"p","x":167.7,"y":45.6,"y2":39.35},{"k":"gr","g":"p","x":167.2,"y":42.3,"y2":39.2},{"k":"gr","g":"p","x":166.7,"y":40.6,"y2":38.85},{"k":"gr","g":"p","x":166,"y":39.7,"y2":38.6},
{"k":"or","g":"p","x":169,"y":41.9,"y2":40},{"k":"or","g":"p","x":168,"y":42.2,"y2":39.5},{"k":"or","g":"p","x":167,"y":42.8,"y2":39.1},{"k":"or","g":"p","x":166,"y":44.4,"y2":38.6},{"k":"or","g":"p","x":165.5,"y":46.9,"y2":38.35},{"k":"or","g":"p","x":165,"y":51.9,"y2":38.1},{"k":"or","g":"p","x":164.5,"y":61,"y2":37.7},{"k":"or","g":"p","x":164,"y":77.3,"y2":37},{"k":"or","g":"p","x":163.5,"y":101.9,"y2":36.2},{"k":"or","g":"p","x":163,"y":128.8,"y2":35.5},{"k":"or","g":"p","x":162.75,"y":137.3,"y2":34.6},{"k":"or","g":"p","x":162.5,"y":139.6,"y2":33.6},{"k":"or","g":"p","x":162.25,"y":135.2,"y2":32.4},{"k":"or","g":"p","x":162,"y":124.4,"y2":31.1},{"k":"or","g":"p","x":161.5,"y":94.9,"y2":29.2},{"k":"or","g":"p","x":161,"y":68.3,"y2":28},{"k":"or","g":"p","x":160.5,"y":49.9,"y2":26.6},{"k":"or","g":"p","x":160,"y":40,"y2":26.2},{"k":"or","g":"p","x":159.5,"y":34.6,"y2":26.1},{"k":"or","g":"p","x":159,"y":31.8,"y2":26},{"k":"or","g":"p","x":158.5,"y":30.7,"y2":25.9},{"k":"or","g":"p","x":157.75,"y":29.4,"y2":25.7},
{"k":"t","x":170.97,"y":278,"txt":"S 2p"},{"k":"t","x":167.52,"y":286.3,"txt":"SO"},{"k":"t","x":162.36,"y":218,"txt":"S 2p"},{"k":"t","x":162.42,"y":153,"txt":"S 2p"},{"k":"t","x":168.49,"y":86.3,"txt":"SO"},
{"k":"s","x":167.52,"y":286.3,"txt":"X"},{"k":"s","x":162.36,"y":218,"txt":"1/2"},{"k":"s","x":162.42,"y":153,"txt":"1/2"},{"k":"s","x":168.49,"y":86.3,"txt":"X"},
{"k":"n","x":172.38,"y":157,"txt":"Initial"},{"k":"n","x":172.55,"y":15.7,"txt":"Post-HER"}
],
"c": [
{"k":"raw","g":"i","x":38.78,"y":211.7},{"k":"raw","g":"i","x":38.55,"y":213.3},{"k":"raw","g":"i","x":38.35,"y":215},{"k":"raw","g":"i","x":38.2,"y":218.3},{"k":"raw","g":"i","x":38.05,"y":227.7},{"k":"raw","g":"i","x":37.95,"y":240},{"k":"raw","g":"i","x":37.8,"y":253.3},{"k":"raw","g":"i","x":37.6,"y":253.3},{"k":"raw","g":"i","x":37.45,"y":251},{"k":"raw","g":"i","x":37.3,"y":251.7},{"k":"raw","g":"i","x":37.1,"y":246.7},{"k":"raw","g":"i","x":36.95,"y":235},{"k":"raw","g":"i","x":36.8,"y":223.3},{"k":"raw","g":"i","x":36.65,"y":213.3},{"k":"raw","g":"i","x":36.5,"y":208.3},{"k":"raw","g":"i","x":36.35,"y":209},{"k":"raw","g":"i","x":36.2,"y":215},{"k":"raw","g":"i","x":36,"y":225.7},{"k":"raw","g":"i","x":35.8,"y":233.3},{"k":"raw","g":"i","x":35.65,"y":243.3},{"k":"raw","g":"i","x":35.5,"y":256.7},{"k":"raw","g":"i","x":35.35,"y":266.7},{"k":"raw","g":"i","x":35.2,"y":265.7},{"k":"raw","g":"i","x":35.05,"y":251.7},{"k":"raw","g":"i","x":34.9,"y":235},{"k":"raw","g":"i","x":34.75,"y":220},{"k":"raw","g":"i","x":34.55,"y":209},{"k":"raw","g":"i","x":34.35,"y":203.3},{"k":"raw","g":"i","x":34.2,"y":200},{"k":"raw","g":"i","x":34.03,"y":196.7},
{"k":"raw","g":"p","x":38.79,"y":65},{"k":"raw","g":"p","x":38.7,"y":66},{"k":"raw","g":"p","x":38.6,"y":68.3},{"k":"raw","g":"p","x":38.5,"y":69.5},{"k":"raw","g":"p","x":38.4,"y":70.5},{"k":"raw","g":"p","x":38.3,"y":72},{"k":"raw","g":"p","x":38.15,"y":76},{"k":"raw","g":"p","x":38,"y":84},{"k":"raw","g":"p","x":37.85,"y":95},{"k":"raw","g":"p","x":37.7,"y":106},{"k":"raw","g":"p","x":37.55,"y":115},{"k":"raw","g":"p","x":37.4,"y":120.5},{"k":"raw","g":"p","x":37.28,"y":122.3},{"k":"raw","g":"p","x":37.15,"y":120},{"k":"raw","g":"p","x":37.05,"y":116},{"k":"raw","g":"p","x":36.9,"y":106},{"k":"raw","g":"p","x":36.75,"y":93},{"k":"raw","g":"p","x":36.6,"y":81},{"k":"raw","g":"p","x":36.44,"y":70},{"k":"raw","g":"p","x":36.32,"y":68.5},{"k":"raw","g":"p","x":36.21,"y":69.5},{"k":"raw","g":"p","x":36.1,"y":75},{"k":"raw","g":"p","x":35.98,"y":88.3},{"k":"raw","g":"p","x":35.85,"y":98},{"k":"raw","g":"p","x":35.71,"y":105},{"k":"raw","g":"p","x":35.6,"y":113},{"k":"raw","g":"p","x":35.52,"y":118.3},{"k":"raw","g":"p","x":35.44,"y":124},{"k":"raw","g":"p","x":35.37,"y":126.7},{"k":"raw","g":"p","x":35.25,"y":126.7},{"k":"raw","g":"p","x":35.17,"y":121},{"k":"raw","g":"p","x":35.1,"y":111.7},{"k":"raw","g":"p","x":35,"y":100},{"k":"raw","g":"p","x":34.9,"y":88.3},{"k":"raw","g":"p","x":34.79,"y":75},{"k":"raw","g":"p","x":34.68,"y":61.7},{"k":"raw","g":"p","x":34.59,"y":52},{"k":"raw","g":"p","x":34.5,"y":45},{"k":"raw","g":"p","x":34.4,"y":40},{"k":"raw","g":"p","x":34.3,"y":36.7},{"k":"raw","g":"p","x":34.15,"y":34.5},{"k":"raw","g":"p","x":34,"y":33.3},
{"k":"fit","g":"i","x":38.79,"y":214.5},{"k":"fit","g":"i","x":38.6,"y":216.5},{"k":"fit","g":"i","x":38.43,"y":218.3},{"k":"fit","g":"i","x":38.25,"y":222.5},{"k":"fit","g":"i","x":38.13,"y":227.7},{"k":"fit","g":"i","x":38,"y":236},{"k":"fit","g":"i","x":37.86,"y":246.7},{"k":"fit","g":"i","x":37.67,"y":255},{"k":"fit","g":"i","x":37.51,"y":257.7},{"k":"fit","g":"i","x":37.28,"y":250},{"k":"fit","g":"i","x":37.05,"y":235},{"k":"fit","g":"i","x":36.82,"y":221.7},{"k":"fit","g":"i","x":36.59,"y":217.7},{"k":"fit","g":"i","x":36.29,"y":216.7},{"k":"fit","g":"i","x":36.06,"y":223.3},{"k":"fit","g":"i","x":35.83,"y":235},{"k":"fit","g":"i","x":35.6,"y":253.3},{"k":"fit","g":"i","x":35.45,"y":263},{"k":"fit","g":"i","x":35.33,"y":269},{"k":"fit","g":"i","x":35.2,"y":263},{"k":"fit","g":"i","x":35.14,"y":257},{"k":"fit","g":"i","x":35.02,"y":244},{"k":"fit","g":"i","x":34.91,"y":231.7},{"k":"fit","g":"i","x":34.68,"y":215},{"k":"fit","g":"i","x":34.5,"y":208.5},{"k":"fit","g":"i","x":34.37,"y":205},{"k":"fit","g":"i","x":34.2,"y":202},{"k":"fit","g":"i","x":34.03,"y":200},
{"k":"fit","g":"p","x":38.79,"y":60},{"k":"fit","g":"p","x":38.5,"y":64.5},{"k":"fit","g":"p","x":38.32,"y":68.3},{"k":"fit","g":"p","x":38.1,"y":76},{"k":"fit","g":"p","x":37.94,"y":86.7},{"k":"fit","g":"p","x":37.78,"y":98},{"k":"fit","g":"p","x":37.63,"y":110},{"k":"fit","g":"p","x":37.48,"y":118},{"k":"fit","g":"p","x":37.32,"y":121.7},{"k":"fit","g":"p","x":37.18,"y":118.5},{"k":"fit","g":"p","x":37.05,"y":111.7},{"k":"fit","g":"p","x":36.9,"y":101},{"k":"fit","g":"p","x":36.75,"y":88.3},{"k":"fit","g":"p","x":36.6,"y":79},{"k":"fit","g":"p","x":36.44,"y":71.7},{"k":"fit","g":"p","x":36.32,"y":70},{"k":"fit","g":"p","x":36.21,"y":71},{"k":"fit","g":"p","x":36.1,"y":76},{"k":"fit","g":"p","x":35.98,"y":85},{"k":"fit","g":"p","x":35.85,"y":95},{"k":"fit","g":"p","x":35.71,"y":106.7},{"k":"fit","g":"p","x":35.6,"y":119},{"k":"fit","g":"p","x":35.52,"y":128.3},{"k":"fit","g":"p","x":35.45,"y":133.5},{"k":"fit","g":"p","x":35.39,"y":135},{"k":"fit","g":"p","x":35.32,"y":131},{"k":"fit","g":"p","x":35.25,"y":121.7},{"k":"fit","g":"p","x":35.15,"y":106},{"k":"fit","g":"p","x":35.06,"y":88.3},{"k":"fit","g":"p","x":34.95,"y":74},{"k":"fit","g":"p","x":34.83,"y":61.7},{"k":"fit","g":"p","x":34.7,"y":53},{"k":"fit","g":"p","x":34.56,"y":48.3},{"k":"fit","g":"p","x":34.4,"y":44.5},{"k":"fit","g":"p","x":34.3,"y":41.7},{"k":"fit","g":"p","x":34.15,"y":40},{"k":"fit","g":"p","x":34,"y":39},
{"k":"base","g":"i","x":38.79,"y":208.3},{"k":"base","g":"i","x":37.36,"y":206.7},{"k":"base","g":"i","x":35.83,"y":201.7},{"k":"base","g":"i","x":35.06,"y":196.7},{"k":"base","g":"i","x":34,"y":193.3},
{"k":"base","g":"p","x":38.79,"y":38.3},{"k":"base","g":"p","x":36.98,"y":36.7},{"k":"base","g":"p","x":35.45,"y":34},{"k":"base","g":"p","x":34,"y":30.7},
{"k":"bl","g":"i","x":38.79,"y":212.7,"y2":208.3},{"k":"bl","g":"i","x":38.5,"y":215.8,"y2":208},{"k":"bl","g":"i","x":38.2,"y":224.9,"y2":207.6},{"k":"bl","g":"i","x":38,"y":234.4,"y2":207.4},{"k":"bl","g":"i","x":37.8,"y":245.8,"y2":207.1},{"k":"bl","g":"i","x":37.65,"y":252.9,"y2":207},{"k":"bl","g":"i","x":37.5,"y":255.9,"y2":206.9},{"k":"bl","g":"i","x":37.35,"y":252.7,"y2":206.7},{"k":"bl","g":"i","x":37.2,"y":245.2,"y2":206.4},{"k":"bl","g":"i","x":37,"y":232.5,"y2":205.5},{"k":"bl","g":"i","x":36.8,"y":222.1,"y2":204.8},{"k":"bl","g":"i","x":36.5,"y":211.7,"y2":203.9},{"k":"bl","g":"i","x":36.2,"y":207.3,"y2":202.9},{"k":"bl","g":"i","x":35.8,"y":203.9,"y2":201.5},{"k":"bl","g":"i","x":35.3,"y":199.8,"y2":198.3},{"k":"bl","g":"i","x":34.8,"y":196.6,"y2":195.6},{"k":"bl","g":"i","x":34.3,"y":194.7,"y2":194},
{"k":"rd","g":"i","x":37.5,"y":208.4,"y2":206.9},{"k":"rd","g":"i","x":36.8,"y":208.2,"y2":204.8},{"k":"rd","g":"i","x":36.4,"y":210,"y2":203.7},{"k":"rd","g":"i","x":36.1,"y":216.7,"y2":202.7},{"k":"rd","g":"i","x":35.9,"y":227,"y2":201.8},{"k":"rd","g":"i","x":35.7,"y":242.6,"y2":200.6},{"k":"rd","g":"i","x":35.5,"y":260.5,"y2":199.6},{"k":"rd","g":"i","x":35.3,"y":268.3,"y2":198.3},{"k":"rd","g":"i","x":35.1,"y":257.8,"y2":197},{"k":"rd","g":"i","x":34.9,"y":238,"y2":196.3},{"k":"rd","g":"i","x":34.7,"y":220.9,"y2":195.7},{"k":"rd","g":"i","x":34.5,"y":208.9,"y2":194.9},{"k":"rd","g":"i","x":34.2,"y":200.2,"y2":193.9},{"k":"rd","g":"i","x":34,"y":197.6,"y2":193.3},
{"k":"bl","g":"p","x":38.79,"y":48.5,"y2":38.3},{"k":"bl","g":"p","x":38.5,"y":51.7,"y2":38.1},{"k":"bl","g":"p","x":38.2,"y":63.5,"y2":37.9},{"k":"bl","g":"p","x":38,"y":76,"y2":37.6},{"k":"bl","g":"p","x":37.8,"y":91,"y2":37.4},{"k":"bl","g":"p","x":37.6,"y":107.6,"y2":37.2},{"k":"bl","g":"p","x":37.45,"y":114.7,"y2":37.1},{"k":"bl","g":"p","x":37.32,"y":117,"y2":37},{"k":"bl","g":"p","x":37.15,"y":112.9,"y2":36.9},{"k":"bl","g":"p","x":37,"y":103.9,"y2":36.7},{"k":"bl","g":"p","x":36.8,"y":86,"y2":36.4},{"k":"bl","g":"p","x":36.6,"y":71.3,"y2":36.1},{"k":"bl","g":"p","x":36.4,"y":59.8,"y2":35.8},{"k":"bl","g":"p","x":36.2,"y":50.6,"y2":35.4},{"k":"bl","g":"p","x":36,"y":45.4,"y2":35},{"k":"bl","g":"p","x":35.7,"y":40.9,"y2":34.5},{"k":"bl","g":"p","x":35.3,"y":37.7,"y2":33.7},{"k":"bl","g":"p","x":34.8,"y":35.1,"y2":32.6},{"k":"bl","g":"p","x":34.3,"y":33.2,"y2":31.4},{"k":"bl","g":"p","x":34,"y":32.2,"y2":30.7},
{"k":"rd","g":"p","x":38.79,"y":39.3,"y2":38.3},{"k":"rd","g":"p","x":38,"y":38.9,"y2":37.6},{"k":"rd","g":"p","x":37.3,"y":39.5,"y2":37},{"k":"rd","g":"p","x":36.8,"y":41.1,"y2":36.4},{"k":"rd","g":"p","x":36.5,"y":43.3,"y2":35.9},{"k":"rd","g":"p","x":36.2,"y":51.2,"y2":35.4},{"k":"rd","g":"p","x":36,"y":65.7,"y2":35},{"k":"rd","g":"p","x":35.8,"y":87.6,"y2":34.6},{"k":"rd","g":"p","x":35.6,"y":114.3,"y2":34.3},{"k":"rd","g":"p","x":35.4,"y":126.9,"y2":33.9},{"k":"rd","g":"p","x":35.2,"y":113.5,"y2":33.5},{"k":"rd","g":"p","x":35,"y":86,"y2":33},{"k":"rd","g":"p","x":34.8,"y":63.3,"y2":32.6},{"k":"rd","g":"p","x":34.6,"y":48,"y2":32.1},{"k":"rd","g":"p","x":34.4,"y":41,"y2":31.7},{"k":"rd","g":"p","x":34.2,"y":37.2,"y2":31.2},{"k":"rd","g":"p","x":34,"y":35.4,"y2":30.7},
{"k":"t","x":38.03,"y":274.3,"txt":"W 4f"},{"k":"t","x":37.3,"y":265,"txt":"W 4f"},{"k":"t","x":35.18,"y":283.3,"txt":"W 4f"},{"k":"t","x":35.31,"y":151.7,"txt":"W 4f"},{"k":"t","x":37.26,"y":135.7,"txt":"W 4f"},
{"k":"s","x":37.3,"y":265,"txt":"5/2"},{"k":"s","x":35.18,"y":283.3,"txt":"7/2"},{"k":"s","x":35.31,"y":151.7,"txt":"7/2"},{"k":"s","x":37.26,"y":135.7,"txt":"5/2"},
{"k":"n","x":38.72,"y":172.3,"txt":"Initial"},{"k":"n","x":38.72,"y":14.3,"txt":"Post-HER"}
],
"d": [
{"k":"raw","g":"i","x":240,"y":176},{"k":"raw","g":"i","x":239.8,"y":178},{"k":"raw","g":"i","x":239.6,"y":181},{"k":"raw","g":"i","x":239.4,"y":179},{"k":"raw","g":"i","x":239.1,"y":176.5},{"k":"raw","g":"i","x":238.7,"y":177},{"k":"raw","g":"i","x":238.3,"y":178.5},{"k":"raw","g":"i","x":237.9,"y":177.5},{"k":"raw","g":"i","x":237.6,"y":179.5},{"k":"raw","g":"i","x":237.3,"y":178},{"k":"raw","g":"i","x":237,"y":181},{"k":"raw","g":"i","x":236.7,"y":186},{"k":"raw","g":"i","x":236.4,"y":194},{"k":"raw","g":"i","x":236.1,"y":206},{"k":"raw","g":"i","x":235.8,"y":218},{"k":"raw","g":"i","x":235.55,"y":225.5},{"k":"raw","g":"i","x":235.35,"y":227.5},{"k":"raw","g":"i","x":235.1,"y":224},{"k":"raw","g":"i","x":234.85,"y":217},{"k":"raw","g":"i","x":234.6,"y":212},{"k":"raw","g":"i","x":234.4,"y":210.5},{"k":"raw","g":"i","x":234.15,"y":212.5},{"k":"raw","g":"i","x":233.9,"y":220},{"k":"raw","g":"i","x":233.6,"y":234},{"k":"raw","g":"i","x":233.35,"y":249},{"k":"raw","g":"i","x":233.1,"y":265},{"k":"raw","g":"i","x":232.85,"y":279},{"k":"raw","g":"i","x":232.6,"y":287},{"k":"raw","g":"i","x":232.45,"y":288},{"k":"raw","g":"i","x":232.25,"y":283},{"k":"raw","g":"i","x":232,"y":266},{"k":"raw","g":"i","x":231.75,"y":243},{"k":"raw","g":"i","x":231.5,"y":224},{"k":"raw","g":"i","x":231.2,"y":207},{"k":"raw","g":"i","x":230.9,"y":197},{"k":"raw","g":"i","x":230.6,"y":191},{"k":"raw","g":"i","x":230.3,"y":187},{"k":"raw","g":"i","x":230,"y":184.5},{"k":"raw","g":"i","x":229.6,"y":182},{"k":"raw","g":"i","x":229.2,"y":180},{"k":"raw","g":"i","x":228.8,"y":181},{"k":"raw","g":"i","x":228.5,"y":179.5},{"k":"raw","g":"i","x":228.2,"y":181.5},{"k":"raw","g":"i","x":227.9,"y":181},{"k":"raw","g":"i","x":227.6,"y":183},{"k":"raw","g":"i","x":227.3,"y":181.5},{"k":"raw","g":"i","x":227,"y":184},{"k":"raw","g":"i","x":226.7,"y":186},{"k":"raw","g":"i","x":226.4,"y":186.5},{"k":"raw","g":"i","x":226.1,"y":184},{"k":"raw","g":"i","x":225.8,"y":186},{"k":"raw","g":"i","x":225.5,"y":182},{"k":"raw","g":"i","x":225.2,"y":179.5},{"k":"raw","g":"i","x":224.9,"y":177},{"k":"raw","g":"i","x":224.5,"y":175},{"k":"raw","g":"i","x":224.2,"y":172},{"k":"raw","g":"i","x":223.9,"y":174},{"k":"raw","g":"i","x":223.6,"y":176.5},{"k":"raw","g":"i","x":223.3,"y":172},{"k":"raw","g":"i","x":223,"y":170},{"k":"raw","g":"i","x":222.7,"y":171.5},{"k":"raw","g":"i","x":222.4,"y":173.5},{"k":"raw","g":"i","x":222.1,"y":170},{"k":"raw","g":"i","x":221.8,"y":169},{"k":"raw","g":"i","x":221.5,"y":171},{"k":"raw","g":"i","x":221.2,"y":170.5},{"k":"raw","g":"i","x":220.9,"y":168.5},{"k":"raw","g":"i","x":220.6,"y":169.5},{"k":"raw","g":"i","x":220.3,"y":170},{"k":"raw","g":"i","x":220,"y":169},{"k":"raw","g":"i","x":219.7,"y":168.5},{"k":"raw","g":"i","x":219.4,"y":167.5},{"k":"raw","g":"i","x":219.1,"y":168.5},{"k":"raw","g":"i","x":218.8,"y":171},{"k":"raw","g":"i","x":218.6,"y":174.5},{"k":"raw","g":"i","x":218.4,"y":171},{"k":"raw","g":"i","x":218.2,"y":171.5},
{"k":"raw","g":"p","x":240,"y":27.5},{"k":"raw","g":"p","x":239,"y":28},{"k":"raw","g":"p","x":238,"y":28.2},{"k":"raw","g":"p","x":237,"y":29},{"k":"raw","g":"p","x":236.3,"y":30.3},{"k":"raw","g":"p","x":235.86,"y":31.3},{"k":"raw","g":"p","x":235.5,"y":32.5},{"k":"raw","g":"p","x":235.2,"y":33.5},{"k":"raw","g":"p","x":234.9,"y":34.5},{"k":"raw","g":"p","x":234.6,"y":40},{"k":"raw","g":"p","x":234.25,"y":46},{"k":"raw","g":"p","x":233.9,"y":54},{"k":"raw","g":"p","x":233.54,"y":64},{"k":"raw","g":"p","x":233.2,"y":73},{"k":"raw","g":"p","x":232.8,"y":82.3},{"k":"raw","g":"p","x":232.5,"y":92},{"k":"raw","g":"p","x":232.3,"y":97.3},{"k":"raw","g":"p","x":232,"y":100},{"k":"raw","g":"p","x":231.75,"y":100.5},{"k":"raw","g":"p","x":231.5,"y":97},{"k":"raw","g":"p","x":231.25,"y":89},{"k":"raw","g":"p","x":230.9,"y":78.7},{"k":"raw","g":"p","x":230.6,"y":68},{"k":"raw","g":"p","x":230.3,"y":62},{"k":"raw","g":"p","x":229.95,"y":58.7},{"k":"raw","g":"p","x":229.7,"y":56},{"k":"raw","g":"p","x":229.4,"y":54.3},{"k":"raw","g":"p","x":229.15,"y":55},{"k":"raw","g":"p","x":228.9,"y":56},{"k":"raw","g":"p","x":228.55,"y":63},{"k":"raw","g":"p","x":228.2,"y":69.3},{"k":"raw","g":"p","x":227.8,"y":82.7},{"k":"raw","g":"p","x":227.55,"y":98},{"k":"raw","g":"p","x":227.3,"y":112.7},{"k":"raw","g":"p","x":227,"y":125},{"k":"raw","g":"p","x":226.75,"y":131},{"k":"raw","g":"p","x":226.55,"y":131.5},{"k":"raw","g":"p","x":226.3,"y":124},{"k":"raw","g":"p","x":226.04,"y":117.3},{"k":"raw","g":"p","x":225.7,"y":100},{"k":"raw","g":"p","x":225.3,"y":80.7},{"k":"raw","g":"p","x":224.95,"y":66},{"k":"raw","g":"p","x":224.6,"y":54},{"k":"raw","g":"p","x":224.25,"y":42},{"k":"raw","g":"p","x":223.9,"y":30.7},{"k":"raw","g":"p","x":223.55,"y":22.5},{"k":"raw","g":"p","x":223.2,"y":17.3},{"k":"raw","g":"p","x":222.85,"y":15},{"k":"raw","g":"p","x":222.5,"y":13.3},{"k":"raw","g":"p","x":221.5,"y":12},{"k":"raw","g":"p","x":220.7,"y":10.7},{"k":"raw","g":"p","x":219.5,"y":10},{"k":"raw","g":"p","x":218.3,"y":9.5},{"k":"raw","g":"p","x":217.65,"y":9},
{"k":"fit","g":"i","x":240,"y":176.7},{"k":"fit","g":"i","x":239,"y":177.5},{"k":"fit","g":"i","x":238,"y":178.5},{"k":"fit","g":"i","x":237.6,"y":179},{"k":"fit","g":"i","x":237.1,"y":181},{"k":"fit","g":"i","x":236.75,"y":185.7},{"k":"fit","g":"i","x":236.4,"y":195},{"k":"fit","g":"i","x":236.04,"y":207.3},{"k":"fit","g":"i","x":235.7,"y":221},{"k":"fit","g":"i","x":235.4,"y":227},{"k":"fit","g":"i","x":235.1,"y":222},{"k":"fit","g":"i","x":234.79,"y":214},{"k":"fit","g":"i","x":234.5,"y":210.5},{"k":"fit","g":"i","x":234.25,"y":211},{"k":"fit","g":"i","x":233.9,"y":222},{"k":"fit","g":"i","x":233.54,"y":237.3},{"k":"fit","g":"i","x":233.25,"y":254},{"k":"fit","g":"i","x":233,"y":270.7},{"k":"fit","g":"i","x":232.75,"y":282},{"k":"fit","g":"i","x":232.55,"y":285.7},{"k":"fit","g":"i","x":232.29,"y":282.3},{"k":"fit","g":"i","x":232.05,"y":268},{"k":"fit","g":"i","x":231.84,"y":247.3},{"k":"fit","g":"i","x":231.5,"y":224},{"k":"fit","g":"i","x":231.22,"y":207.3},{"k":"fit","g":"i","x":230.8,"y":194},{"k":"fit","g":"i","x":230.32,"y":187.3},{"k":"fit","g":"i","x":229.6,"y":182.5},{"k":"fit","g":"i","x":228.9,"y":180},{"k":"fit","g":"i","x":228.2,"y":180.5},{"k":"fit","g":"i","x":227.47,"y":181.3},{"k":"fit","g":"i","x":226.9,"y":184},{"k":"fit","g":"i","x":226.4,"y":185.7},{"k":"fit","g":"i","x":225.9,"y":184},{"k":"fit","g":"i","x":225.32,"y":179},{"k":"fit","g":"i","x":224.6,"y":176},{"k":"fit","g":"i","x":223.9,"y":174},{"k":"fit","g":"i","x":222,"y":172.5},{"k":"fit","g":"i","x":220,"y":171.8},{"k":"fit","g":"i","x":218.2,"y":171.3},
{"k":"fit","g":"p","x":240,"y":26.7},{"k":"fit","g":"p","x":238.5,"y":27},{"k":"fit","g":"p","x":237.64,"y":27.3},{"k":"fit","g":"p","x":236.5,"y":28.5},{"k":"fit","g":"p","x":235.86,"y":30},{"k":"fit","g":"p","x":235.2,"y":33},{"k":"fit","g":"p","x":234.6,"y":37.3},{"k":"fit","g":"p","x":234.1,"y":44},{"k":"fit","g":"p","x":233.54,"y":54},{"k":"fit","g":"p","x":233.1,"y":66},{"k":"fit","g":"p","x":232.65,"y":80.7},{"k":"fit","g":"p","x":232.1,"y":92.3},{"k":"fit","g":"p","x":231.75,"y":94.7},{"k":"fit","g":"p","x":231.45,"y":91},{"k":"fit","g":"p","x":231.2,"y":84},{"k":"fit","g":"p","x":230.85,"y":71},{"k":"fit","g":"p","x":230.5,"y":60.7},{"k":"fit","g":"p","x":230.05,"y":51},{"k":"fit","g":"p","x":229.6,"y":47.3},{"k":"fit","g":"p","x":229.25,"y":48.5},{"k":"fit","g":"p","x":228.9,"y":54},{"k":"fit","g":"p","x":228.55,"y":63},{"k":"fit","g":"p","x":228.18,"y":74},{"k":"fit","g":"p","x":227.8,"y":88},{"k":"fit","g":"p","x":227.47,"y":104},{"k":"fit","g":"p","x":227.2,"y":116},{"k":"fit","g":"p","x":226.93,"y":125.7},{"k":"fit","g":"p","x":226.66,"y":129.7},{"k":"fit","g":"p","x":226.45,"y":126},{"k":"fit","g":"p","x":226.22,"y":117.3},{"k":"fit","g":"p","x":225.9,"y":100},{"k":"fit","g":"p","x":225.5,"y":77.3},{"k":"fit","g":"p","x":225.15,"y":58},{"k":"fit","g":"p","x":224.79,"y":44},{"k":"fit","g":"p","x":224.3,"y":31},{"k":"fit","g":"p","x":223.7,"y":22.3},{"k":"fit","g":"p","x":223.1,"y":17},{"k":"fit","g":"p","x":222.47,"y":14},{"k":"fit","g":"p","x":221.5,"y":12},{"k":"fit","g":"p","x":220.68,"y":10.7},{"k":"fit","g":"p","x":219,"y":9},{"k":"fit","g":"p","x":217.65,"y":8},
{"k":"base","g":"i","x":240,"y":170.5},{"k":"base","g":"i","x":229,"y":170.3},{"k":"base","g":"i","x":218.2,"y":170},
{"k":"base","g":"p","x":239.96,"y":24},{"k":"base","g":"p","x":234.97,"y":21.3},{"k":"base","g":"p","x":229.6,"y":17.3},{"k":"base","g":"p","x":226.75,"y":12.3},{"k":"base","g":"p","x":224.25,"y":7.3},{"k":"base","g":"p","x":217.65,"y":5.7},
{"k":"bl","g":"i","x":237.5,"y":171.9,"y2":170.5},{"k":"bl","g":"i","x":237,"y":172.8,"y2":170.5},{"k":"bl","g":"i","x":236.5,"y":175.5,"y2":170.4},{"k":"bl","g":"i","x":236.1,"y":183.4,"y2":170.4},{"k":"bl","g":"i","x":235.8,"y":196.4,"y2":170.4},{"k":"bl","g":"i","x":235.55,"y":209.4,"y2":170.4},{"k":"bl","g":"i","x":235.32,"y":215.4,"y2":170.4},{"k":"bl","g":"i","x":235.1,"y":210,"y2":170.4},{"k":"bl","g":"i","x":234.85,"y":197,"y2":170.4},{"k":"bl","g":"i","x":234.55,"y":183.9,"y2":170.4},{"k":"bl","g":"i","x":234.2,"y":175.8,"y2":170.4},{"k":"bl","g":"i","x":233.7,"y":172.7,"y2":170.4},{"k":"bl","g":"i","x":233,"y":171.7,"y2":170.3},
{"k":"or","g":"i","x":237,"y":173,"y2":170.5},{"k":"or","g":"i","x":236,"y":174.3,"y2":170.4},{"k":"or","g":"i","x":235,"y":177.8,"y2":170.4},{"k":"or","g":"i","x":234.3,"y":186.4,"y2":170.4},{"k":"or","g":"i","x":233.8,"y":203.4,"y2":170.4},{"k":"or","g":"i","x":233.4,"y":227.4,"y2":170.4},{"k":"or","g":"i","x":233,"y":258.1,"y2":170.3},{"k":"or","g":"i","x":232.7,"y":277.3,"y2":170.3},{"k":"or","g":"i","x":232.45,"y":284.3,"y2":170.3},{"k":"or","g":"i","x":232.2,"y":277.3,"y2":170.3},{"k":"or","g":"i","x":231.9,"y":258.1,"y2":170.3},{"k":"or","g":"i","x":231.5,"y":227.3,"y2":170.3},{"k":"or","g":"i","x":231.1,"y":203.3,"y2":170.3},{"k":"or","g":"i","x":230.6,"y":186.3,"y2":170.3},{"k":"or","g":"i","x":230,"y":178.3,"y2":170.3},{"k":"or","g":"i","x":229,"y":174.4,"y2":170.3},{"k":"or","g":"i","x":228,"y":172.8,"y2":170.2},{"k":"or","g":"i","x":227,"y":172,"y2":170.2},{"k":"or","g":"i","x":226,"y":171.4,"y2":170.2},
{"k":"gr","g":"i","x":228.5,"y":171.1,"y2":170.2},{"k":"gr","g":"i","x":228,"y":171.9,"y2":170.2},{"k":"gr","g":"i","x":227.5,"y":174.2,"y2":170.2},{"k":"gr","g":"i","x":227.1,"y":177.7,"y2":170.2},{"k":"gr","g":"i","x":226.8,"y":180.9,"y2":170.2},{"k":"gr","g":"i","x":226.4,"y":183.2,"y2":170.2},{"k":"gr","g":"i","x":226,"y":180.9,"y2":170.2},{"k":"gr","g":"i","x":225.7,"y":177.7,"y2":170.2},{"k":"gr","g":"i","x":225.3,"y":174.2,"y2":170.2},{"k":"gr","g":"i","x":224.8,"y":171.9,"y2":170.1},{"k":"gr","g":"i","x":224.3,"y":171,"y2":170.1},
{"k":"or","g":"p","x":239.96,"y":24.9,"y2":24},{"k":"or","g":"p","x":238,"y":24.4,"y2":22.9},{"k":"or","g":"p","x":236.5,"y":24.6,"y2":22.1},{"k":"or","g":"p","x":235.5,"y":25.6,"y2":21.6},{"k":"or","g":"p","x":234.8,"y":27.7,"y2":21.2},{"k":"or","g":"p","x":234.2,"y":31.4,"y2":20.7},{"k":"or","g":"p","x":233.7,"y":38.9,"y2":20.3},{"k":"or","g":"p","x":233.2,"y":50.5,"y2":19.9},{"k":"or","g":"p","x":232.7,"y":68.4,"y2":19.4},{"k":"or","g":"p","x":232.3,"y":82.7,"y2":19.2},{"k":"or","g":"p","x":232,"y":88.9,"y2":19.1},{"k":"or","g":"p","x":231.75,"y":90.9,"y2":18.9},{"k":"or","g":"p","x":231.45,"y":87.8,"y2":18.7},{"k":"or","g":"p","x":231.1,"y":77.4,"y2":18.4},{"k":"or","g":"p","x":230.7,"y":63.5,"y2":18.1},{"k":"or","g":"p","x":230.3,"y":48.8,"y2":17.8},{"k":"or","g":"p","x":229.9,"y":38.4,"y2":17.5},{"k":"or","g":"p","x":229.4,"y":29.1,"y2":16.9},{"k":"or","g":"p","x":228.8,"y":22.2,"y2":15.8},{"k":"or","g":"p","x":228,"y":18.5,"y2":14.5},{"k":"or","g":"p","x":227,"y":15.2,"y2":12.7},{"k":"or","g":"p","x":226,"y":12.6,"y2":10.8},{"k":"or","g":"p","x":225,"y":10.1,"y2":8.8},{"k":"or","g":"p","x":224,"y":8.2,"y2":7.2},
{"k":"gr","g":"p","x":231.5,"y":22.1,"y2":18.6},{"k":"gr","g":"p","x":230.5,"y":23.8,"y2":18},{"k":"gr","g":"p","x":229.8,"y":26,"y2":17.4},{"k":"gr","g":"p","x":229.2,"y":31.6,"y2":16.6},{"k":"gr","g":"p","x":228.7,"y":40,"y2":15.8},{"k":"gr","g":"p","x":228.2,"y":57.5,"y2":14.9},{"k":"gr","g":"p","x":227.8,"y":76.1,"y2":14.1},{"k":"gr","g":"p","x":227.4,"y":99.8,"y2":13.5},{"k":"gr","g":"p","x":227,"y":120.7,"y2":12.7},{"k":"gr","g":"p","x":226.66,"y":127.1,"y2":12.1},{"k":"gr","g":"p","x":226.3,"y":118.4,"y2":11.4},{"k":"gr","g":"p","x":225.9,"y":95.6,"y2":10.6},{"k":"gr","g":"p","x":225.5,"y":70.8,"y2":9.8},{"k":"gr","g":"p","x":225.1,"y":50.4,"y2":9},{"k":"gr","g":"p","x":224.7,"y":34.5,"y2":8},{"k":"gr","g":"p","x":224.2,"y":22.8,"y2":7.2},{"k":"gr","g":"p","x":223.6,"y":16.3,"y2":7.1},{"k":"gr","g":"p","x":222.8,"y":12.7,"y2":6.9},{"k":"gr","g":"p","x":221.5,"y":9.8,"y2":6.6},{"k":"gr","g":"p","x":220,"y":8.4,"y2":6.3},{"k":"gr","g":"p","x":218,"y":7.2,"y2":5.8},{"k":"gr","g":"p","x":217.65,"y":7,"y2":5.7},
{"k":"t","x":236.04,"y":279.7,"txt":"Mo 3d"},{"k":"t","x":235.0,"y":234,"txt":"MoO"},{"k":"t","x":230.5,"y":289,"txt":"Mo 3d"},{"k":"t","x":225.41,"y":192.3,"txt":"Mo 3d"},{"k":"t","x":225.06,"y":135.7,"txt":"Mo 3d"},{"k":"t","x":231.66,"y":112.3,"txt":"Mo 3d"},
{"k":"s","x":235.0,"y":234,"txt":"X"},{"k":"s","x":230.5,"y":289,"txt":"3/2"},{"k":"s","x":225.41,"y":192.3,"txt":"5/2"},{"k":"s","x":225.06,"y":135.7,"txt":"5/2"},{"k":"s","x":231.66,"y":112.3,"txt":"3/2"},
{"k":"n","x":239.07,"y":140,"txt":"Initial"},{"k":"n","x":239.79,"y":44,"txt":"Post-HER"}
]
},
"concat": [
{
 "width": 419, "height": 311,
 "data": {"name": "a"},
 "title": {"text": "(a)", "anchor": "start", "frame": "group", "dx": -61, "dy": 49, "offset": 0, "baseline": "alphabetic", "fontSize": 36, "font": "Liberation Serif", "fontWeight": "bold", "color": "black"},
 "encoding": {
  "x": {"field": "x", "type": "quantitative", "scale": {"domain": [845, 890], "reverse": true, "nice": false, "zero": false}, "axis": null},
  "y": {"field": "y", "type": "quantitative", "scale": {"domain": [0, 311], "nice": false, "zero": false}, "axis": {"title": "Intensity/(a.u.)"}}
 },
 "layer": [
  {"transform": [{"filter": "datum.k == 'or'"}], "mark": {"type": "area", "interpolate": "monotone", "fill": {"gradient": "linear", "x1": 0, "y1": 0, "x2": 0, "y2": 1, "stops": [{"offset": 0, "color": "#f6bd82"}, {"offset": 1, "color": "#fde6cc"}]}, "fillOpacity": 0.9, "stroke": "white", "strokeWidth": 1}, "encoding": {"y2": {"field": "y2"}, "detail": {"field": "g"}}},
  {"transform": [{"filter": "datum.k == 'gr'"}], "mark": {"type": "area", "interpolate": "monotone", "fill": {"gradient": "linear", "x1": 0, "y1": 0, "x2": 0, "y2": 1, "stops": [{"offset": 0, "color": "#b0dc90"}, {"offset": 1, "color": "#e4f4d6"}]}, "fillOpacity": 0.9, "stroke": "white", "strokeWidth": 1}, "encoding": {"y2": {"field": "y2"}, "detail": {"field": "g"}}},
  {"transform": [{"filter": "datum.k == 'bl'"}], "mark": {"type": "area", "interpolate": "monotone", "fill": {"gradient": "linear", "x1": 0, "y1": 0, "x2": 0, "y2": 1, "stops": [{"offset": 0, "color": "#98bfe6"}, {"offset": 1, "color": "#dde9f6"}]}, "fillOpacity": 0.9, "stroke": "white", "strokeWidth": 1}, "encoding": {"y2": {"field": "y2"}, "detail": {"field": "g"}}},
  {"transform": [{"filter": "datum.k == 'rd'"}], "mark": {"type": "area", "interpolate": "monotone", "fill": {"gradient": "linear", "x1": 0, "y1": 0, "x2": 0, "y2": 1, "stops": [{"offset": 0, "color": "#ef6b6b"}, {"offset": 1, "color": "#f49a9a"}]}, "fillOpacity": 0.85, "stroke": "white", "strokeWidth": 1}, "encoding": {"y2": {"field": "y2"}, "detail": {"field": "g"}}},
  {"transform": [{"filter": "datum.k == 'raw'"}], "mark": {"type": "line", "color": "black", "strokeWidth": 1.4}, "encoding": {"x": {"field": "x", "type": "quantitative", "scale": {"domain": [845, 890], "reverse": true, "nice": false, "zero": false}, "axis": {"values": [850, 860, 870, 880, 890], "format": "d", "title": "Binding Energy/(eV)"}}, "detail": {"field": "g"}}},
  {"transform": [{"filter": "datum.k == 'fit'"}], "mark": {"type": "line", "color": "#ee1c24", "strokeWidth": 2, "interpolate": "monotone"}, "encoding": {"detail": {"field": "g"}}},
  {"transform": [{"filter": "datum.k == 'base'"}], "mark": {"type": "line", "color": "#7a2a2a", "strokeWidth": 1.5, "interpolate": "monotone"}, "encoding": {"x": {"field": "x", "type": "quantitative", "scale": {"domain": [845, 890], "reverse": true, "nice": false, "zero": false}, "axis": {"values": [845, 855, 865, 875, 885], "labels": false, "tickSize": 4, "title": null}}, "detail": {"field": "g"}}},
  {"transform": [{"filter": "datum.k == 't'"}], "mark": {"type": "text", "align": "right", "baseline": "alphabetic", "font": "Liberation Serif", "fontWeight": "bold", "fontSize": 20, "color": "black"}, "encoding": {"text": {"field": "txt"}}},
  {"transform": [{"filter": "datum.k == 's'"}], "mark": {"type": "text", "align": "left", "baseline": "alphabetic", "dx": 1, "dy": 5, "font": "Liberation Serif", "fontWeight": "bold", "fontSize": 14, "color": "black"}, "encoding": {"text": {"field": "txt"}}},
  {"transform": [{"filter": "datum.k == 'u'"}], "mark": {"type": "text", "align": "left", "baseline": "alphabetic", "dx": 1, "dy": -8, "font": "Liberation Serif", "fontWeight": "bold", "fontSize": 13, "color": "black"}, "encoding": {"text": {"field": "txt"}}},
  {"transform": [{"filter": "datum.k == 'n'"}], "mark": {"type": "text", "align": "left", "baseline": "alphabetic", "font": "Liberation Sans", "fontWeight": "bold", "fontSize": 21, "color": "black"}, "encoding": {"text": {"field": "txt"}}}
 ],
 "resolve": {"axis": {"x": "independent"}}
},
{
 "width": 419, "height": 311,
 "data": {"name": "b"},
 "title": {"text": "(b)", "anchor": "start", "frame": "group", "dx": -60, "dy": 49, "offset": 0, "baseline": "alphabetic", "fontSize": 36, "font": "Liberation Serif", "fontWeight": "bold", "color": "black"},
 "encoding": {
  "x": {"field": "x", "type": "quantitative", "scale": {"domain": [157.75, 173], "reverse": true, "nice": false, "zero": false}, "axis": null},
  "y": {"field": "y", "type": "quantitative", "scale": {"domain": [0, 311], "nice": false, "zero": false}, "axis": {"title": "Intensity/(a.u.)"}}
 },
 "layer": [
  {"transform": [{"filter": "datum.k == 'gr'"}], "mark": {"type": "area", "interpolate": "monotone", "fill": {"gradient": "linear", "x1": 0, "y1": 0, "x2": 0, "y2": 1, "stops": [{"offset": 0, "color": "#6cc468"}, {"offset": 1, "color": "#d4efcc"}]}, "fillOpacity": 0.85, "stroke": "white", "strokeWidth": 1}, "encoding": {"y2": {"field": "y2"}, "detail": {"field": "g"}}},
  {"transform": [{"filter": "datum.k == 'bl'"}], "mark": {"type": "area", "interpolate": "monotone", "fill": {"gradient": "linear", "x1": 0, "y1": 0, "x2": 0, "y2": 1, "stops": [{"offset": 0, "color": "#6aa6dc"}, {"offset": 1, "color": "#cfe2f4"}]}, "fillOpacity": 0.85, "stroke": "white", "strokeWidth": 1}, "encoding": {"y2": {"field": "y2"}, "detail": {"field": "g"}}},
  {"transform": [{"filter": "datum.k == 'or'"}], "mark": {"type": "area", "interpolate": "monotone", "fill": {"gradient": "linear", "x1": 0, "y1": 0, "x2": 0, "y2": 1, "stops": [{"offset": 0, "color": "#f3a262"}, {"offset": 1, "color": "#fbe3cc"}]}, "fillOpacity": 0.9, "stroke": "white", "strokeWidth": 1}, "encoding": {"y2": {"field": "y2"}, "detail": {"field": "g"}}},
  {"transform": [{"filter": "datum.k == 'raw'"}], "mark": {"type": "line", "color": "black", "strokeWidth": 1.4}, "encoding": {"x": {"field": "x", "type": "quantitative", "scale": {"domain": [157.75, 173], "reverse": true, "nice": false, "zero": false}, "axis": {"values": [158, 160, 162, 164, 166, 168, 170, 172], "format": "d", "title": "Binding Energy/(eV)"}}, "detail": {"field": "g"}}},
  {"transform": [{"filter": "datum.k == 'fit'"}], "mark": {"type": "line", "color": "#ee1c24", "strokeWidth": 2, "interpolate": "monotone"}, "encoding": {"detail": {"field": "g"}}},
  {"transform": [{"filter": "datum.k == 'base'"}], "mark": {"type": "line", "color": "#2233aa", "strokeWidth": 1.5, "interpolate": "monotone"}, "encoding": {"x": {"field": "x", "type": "quantitative", "scale": {"domain": [157.75, 173], "reverse": true, "nice": false, "zero": false}, "axis": {"values": [159, 161, 163, 165, 167, 169, 171, 173], "labels": false, "tickSize": 4, "title": null}}, "detail": {"field": "g"}}},
  {"transform": [{"filter": "datum.k == 't'"}], "mark": {"type": "text", "align": "right", "baseline": "alphabetic", "font": "Liberation Serif", "fontWeight": "bold", "fontSize": 20, "color": "black"}, "encoding": {"text": {"field": "txt"}}},
  {"transform": [{"filter": "datum.k == 's'"}], "mark": {"type": "text", "align": "left", "baseline": "alphabetic", "dx": 1, "dy": 5, "font": "Liberation Serif", "fontWeight": "bold", "fontSize": 14, "color": "black"}, "encoding": {"text": {"field": "txt"}}},
  {"transform": [{"filter": "datum.k == 'n'"}], "mark": {"type": "text", "align": "left", "baseline": "alphabetic", "font": "Liberation Sans", "fontWeight": "bold", "fontSize": 21, "color": "black"}, "encoding": {"text": {"field": "txt"}}}
 ],
 "resolve": {"axis": {"x": "independent"}}
},
{
 "width": 419, "height": 311,
 "data": {"name": "c"},
 "title": {"text": "(c)", "anchor": "start", "frame": "group", "dx": -61, "dy": 52, "offset": 0, "baseline": "alphabetic", "fontSize": 36, "font": "Liberation Serif", "fontWeight": "bold", "color": "black"},
 "encoding": {
  "x": {"field": "x", "type": "quantitative", "scale": {"domain": [34, 38.79], "reverse": true, "nice": false, "zero": false}, "axis": null},
  "y": {"field": "y", "type": "quantitative", "scale": {"domain": [0, 311], "nice": false, "zero": false}, "axis": {"title": "Intensity/(a.u.)"}}
 },
 "layer": [
  {"transform": [{"filter": "datum.k == 'bl'"}], "mark": {"type": "area", "interpolate": "monotone", "fill": {"gradient": "linear", "x1": 0, "y1": 0, "x2": 0, "y2": 1, "stops": [{"offset": 0, "color": "#5aa3df"}, {"offset": 1, "color": "#c9e1f6"}]}, "fillOpacity": 0.85, "stroke": "white", "strokeWidth": 1}, "encoding": {"y2": {"field": "y2"}, "detail": {"field": "g"}}},
  {"transform": [{"filter": "datum.k == 'rd'"}], "mark": {"type": "area", "interpolate": "monotone", "fill": {"gradient": "linear", "x1": 0, "y1": 0, "x2": 0, "y2": 1, "stops": [{"offset": 0, "color": "#ee7676"}, {"offset": 1, "color": "#f4c2c2"}]}, "fillOpacity": 0.7, "stroke": "white", "strokeWidth": 1}, "encoding": {"y2": {"field": "y2"}, "detail": {"field": "g"}}},
  {"transform": [{"filter": "datum.k == 'raw'"}], "mark": {"type": "line", "color": "black", "strokeWidth": 1.4, "interpolate": "monotone"}, "encoding": {"x": {"field": "x", "type": "quantitative", "scale": {"domain": [34, 38.79], "reverse": true, "nice": false, "zero": false}, "axis": {"values": [34, 35, 36, 37, 38], "format": "d", "title": "Binding Energy/(eV)"}}, "detail": {"field": "g"}}},
  {"transform": [{"filter": "datum.k == 'fit'"}], "mark": {"type": "line", "color": "#ee1c24", "strokeWidth": 2, "interpolate": "monotone"}, "encoding": {"detail": {"field": "g"}}},
  {"transform": [{"filter": "datum.k == 'base'"}], "mark": {"type": "line", "color": "#1f6b6b", "strokeWidth": 1.5, "interpolate": "monotone"}, "encoding": {"x": {"field": "x", "type": "quantitative", "scale": {"domain": [34, 38.79], "reverse": true, "nice": false, "zero": false}, "axis": {"values": [34.5, 35.5, 36.5, 37.5, 38.5], "labels": false, "tickSize": 4, "title": null}}, "detail": {"field": "g"}}},
  {"transform": [{"filter": "datum.k == 't'"}], "mark": {"type": "text", "align": "right", "baseline": "alphabetic", "font": "Liberation Serif", "fontWeight": "bold", "fontSize": 20, "color": "black"}, "encoding": {"text": {"field": "txt"}}},
  {"transform": [{"filter": "datum.k == 's'"}], "mark": {"type": "text", "align": "left", "baseline": "alphabetic", "dx": 1, "dy": 5, "font": "Liberation Serif", "fontWeight": "bold", "fontSize": 14, "color": "black"}, "encoding": {"text": {"field": "txt"}}},
  {"transform": [{"filter": "datum.k == 'n'"}], "mark": {"type": "text", "align": "left", "baseline": "alphabetic", "font": "Liberation Sans", "fontWeight": "bold", "fontSize": 21, "color": "black"}, "encoding": {"text": {"field": "txt"}}}
 ],
 "resolve": {"axis": {"x": "independent"}}
},
{
 "width": 419, "height": 311,
 "data": {"name": "d"},
 "title": {"text": "(d)", "anchor": "start", "frame": "group", "dx": -58, "dy": 52, "offset": 0, "baseline": "alphabetic", "fontSize": 36, "font": "Liberation Serif", "fontWeight": "bold", "color": "black"},
 "encoding": {
  "x": {"field": "x", "type": "quantitative", "scale": {"domain": [217.5, 240], "reverse": true, "nice": false, "zero": false}, "axis": null},
  "y": {"field": "y", "type": "quantitative", "scale": {"domain": [0, 311], "nice": false, "zero": false}, "axis": {"title": "Intensity/(a.u.)"}}
 },
 "layer": [
  {"transform": [{"filter": "datum.k == 'or'"}], "mark": {"type": "area", "interpolate": "monotone", "fill": {"gradient": "linear", "x1": 0, "y1": 0, "x2": 0, "y2": 1, "stops": [{"offset": 0, "color": "#f4a463"}, {"offset": 1, "color": "#fbe3cd"}]}, "fillOpacity": 0.85, "stroke": "white", "strokeWidth": 1}, "encoding": {"y2": {"field": "y2"}, "detail": {"field": "g"}}},
  {"transform": [{"filter": "datum.k == 'bl'"}], "mark": {"type": "area", "interpolate": "monotone", "fill": {"gradient": "linear", "x1": 0, "y1": 0, "x2": 0, "y2": 1, "stops": [{"offset": 0, "color": "#6aaee0"}, {"offset": 1, "color": "#d3e7f7"}]}, "fillOpacity": 0.85, "stroke": "white", "strokeWidth": 1}, "encoding": {"y2": {"field": "y2"}, "detail": {"field": "g"}}},
  {"transform": [{"filter": "datum.k == 'gr'"}], "mark": {"type": "area", "interpolate": "monotone", "fill": {"gradient": "linear", "x1": 0, "y1": 0, "x2": 0, "y2": 1, "stops": [{"offset": 0, "color": "#5ec85a"}, {"offset": 1, "color": "#d6f2cf"}]}, "fillOpacity": 0.85, "stroke": "white", "strokeWidth": 1}, "encoding": {"y2": {"field": "y2"}, "detail": {"field": "g"}}},
  {"transform": [{"filter": "datum.k == 'raw'"}], "mark": {"type": "line", "color": "black", "strokeWidth": 1.4}, "encoding": {"x": {"field": "x", "type": "quantitative", "scale": {"domain": [217.5, 240], "reverse": true, "nice": false, "zero": false}, "axis": {"values": [220, 225, 230, 235, 240], "format": "d", "title": "Binding Energy/(eV)"}}, "detail": {"field": "g"}}},
  {"transform": [{"filter": "datum.k == 'fit'"}], "mark": {"type": "line", "color": "#ee1c24", "strokeWidth": 2, "interpolate": "monotone"}, "encoding": {"detail": {"field": "g"}}},
  {"transform": [{"filter": "datum.k == 'base'"}], "mark": {"type": "line", "color": "#2a2ab8", "strokeWidth": 1.5, "interpolate": "monotone"}, "encoding": {"x": {"field": "x", "type": "quantitative", "scale": {"domain": [217.5, 240], "reverse": true, "nice": false, "zero": false}, "axis": {"values": [217.5, 222.5, 227.5, 232.5, 237.5], "labels": false, "tickSize": 4, "title": null}}, "detail": {"field": "g"}}},
  {"transform": [{"filter": "datum.k == 't'"}], "mark": {"type": "text", "align": "right", "baseline": "alphabetic", "font": "Liberation Serif", "fontWeight": "bold", "fontSize": 20, "color": "black"}, "encoding": {"text": {"field": "txt"}}},
  {"transform": [{"filter": "datum.k == 's'"}], "mark": {"type": "text", "align": "left", "baseline": "alphabetic", "dx": 1, "dy": 5, "font": "Liberation Serif", "fontWeight": "bold", "fontSize": 14, "color": "black"}, "encoding": {"text": {"field": "txt"}}},
  {"transform": [{"filter": "datum.k == 'n'"}], "mark": {"type": "text", "align": "left", "baseline": "alphabetic", "font": "Liberation Sans", "fontWeight": "bold", "fontSize": 21, "color": "black"}, "encoding": {"text": {"field": "txt"}}}
 ],
 "resolve": {"axis": {"x": "independent"}}
}
]
}
